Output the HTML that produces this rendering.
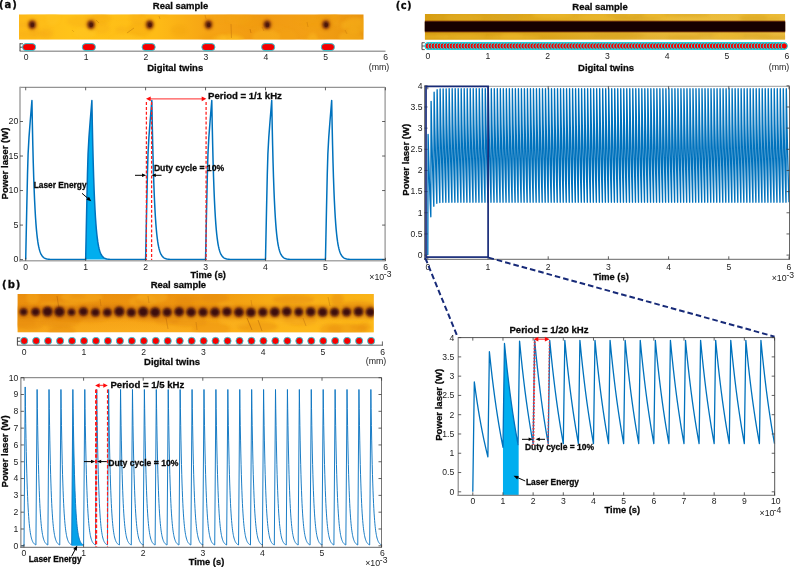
<!DOCTYPE html>
<html><head><meta charset="utf-8"><title>Figure</title>
<style>html,body{margin:0;padding:0;background:#fff}svg{display:block;will-change:transform}</style>
</head><body>
<svg width="794" height="567" viewBox="0 0 794 567" font-family='"Liberation Sans", Arial, sans-serif'>
<defs>
<filter id="b1" x="-50%" y="-50%" width="200%" height="200%"><feGaussianBlur stdDeviation="0.7"/></filter>
<filter id="b2" x="-50%" y="-50%" width="200%" height="200%"><feGaussianBlur stdDeviation="1.6"/></filter>
<filter id="b3" x="-50%" y="-50%" width="200%" height="200%"><feGaussianBlur stdDeviation="4"/></filter>
<filter id="b1s" x="-50%" y="-50%" width="200%" height="200%"><feGaussianBlur stdDeviation="1"/></filter>
<filter id="b05" x="-20%" y="-50%" width="140%" height="200%"><feGaussianBlur stdDeviation="0.5"/></filter>
<linearGradient id="ga" x1="0" y1="0" x2="1" y2="0">
<stop offset="0" stop-color="#fdb818"/><stop offset="0.15" stop-color="#ffc318"/><stop offset="0.4" stop-color="#febb16"/><stop offset="0.55" stop-color="#f6a414"/><stop offset="0.7" stop-color="#f19a12"/><stop offset="0.85" stop-color="#f3a014"/><stop offset="1" stop-color="#e9940f"/></linearGradient>
<linearGradient id="gb" x1="0" y1="0" x2="0" y2="1">
<stop offset="0" stop-color="#ea8f0e"/><stop offset="0.35" stop-color="#ee9510"/><stop offset="0.6" stop-color="#f5a216"/><stop offset="1" stop-color="#fbae1e"/></linearGradient>
<linearGradient id="gch" x1="0" y1="0" x2="1" y2="0">
<stop offset="0" stop-color="#d3980c" stop-opacity="0.8"/><stop offset="0.35" stop-color="#d79e12" stop-opacity="0.5"/><stop offset="0.7" stop-color="#f0c858" stop-opacity="0.35"/><stop offset="1" stop-color="#f0c858" stop-opacity="0.45"/></linearGradient>
<linearGradient id="gbh" x1="0" y1="0" x2="1" y2="0">
<stop offset="0" stop-color="#e8880a" stop-opacity="0.25"/><stop offset="0.4" stop-color="#f5a012" stop-opacity="0.05"/><stop offset="0.7" stop-color="#ffbc18" stop-opacity="0.6"/><stop offset="1" stop-color="#ffc01a" stop-opacity="0.75"/></linearGradient>
<linearGradient id="gc" x1="0" y1="0" x2="0" y2="1">
<stop offset="0" stop-color="#e6b226"/><stop offset="0.2" stop-color="#e9b62a"/><stop offset="0.8" stop-color="#e2ae26"/><stop offset="1" stop-color="#dcaa28"/></linearGradient>
<clipPath id="ca"><rect x="19" y="14.3" width="345" height="25.4"/></clipPath>
<clipPath id="cb"><rect x="17.4" y="294" width="356.4" height="38.5"/></clipPath>
<clipPath id="cc"><rect x="424.8" y="14" width="360.4" height="25.7"/></clipPath>
</defs>
<rect width="794" height="567" fill="#fff"/>
<text x="-1" y="8" font-size="10" font-weight="bold" text-anchor="start" fill="#0a0a0a" font-family="DejaVu Sans, sans-serif" letter-spacing="1" stroke="#0a0a0a" stroke-width="0.28">(a)</text>
<text x="180.5" y="8.6" font-size="9.5" font-weight="bold" text-anchor="middle" fill="#0a0a0a" stroke="#0a0a0a" stroke-width="0.28">Real sample</text>
<text x="175.2" y="71" font-size="9.5" font-weight="bold" text-anchor="middle" fill="#0a0a0a" stroke="#0a0a0a" stroke-width="0.28">Digital twins</text>
<g clip-path="url(#ca)">
<rect x="19" y="14.3" width="344.5" height="25.4" fill="url(#ga)"/>
<ellipse cx="100.86" cy="28.15" rx="9.18" ry="5.62" fill="#f5a815" opacity="0.3" filter="url(#b2)"/>
<ellipse cx="41.54" cy="14.34" rx="15.72" ry="3.56" fill="#ffc524" opacity="0.3" filter="url(#b2)"/>
<ellipse cx="84.96" cy="32.65" rx="11.57" ry="5.3" fill="#ffc82a" opacity="0.3" filter="url(#b2)"/>
<ellipse cx="238.84" cy="17.92" rx="12.89" ry="7.21" fill="#f5a815" opacity="0.3" filter="url(#b2)"/>
<ellipse cx="153.14" cy="14.39" rx="14.88" ry="2.96" fill="#f5a815" opacity="0.3" filter="url(#b2)"/>
<ellipse cx="33.72" cy="34.28" rx="15.53" ry="3.62" fill="#f5a815" opacity="0.3" filter="url(#b2)"/>
<ellipse cx="266.28" cy="36.85" rx="14" ry="7.53" fill="#ffc82a" opacity="0.3" filter="url(#b2)"/>
<ellipse cx="269.48" cy="29" rx="17.5" ry="2.8" fill="#f3a412" opacity="0.3" filter="url(#b2)"/>
<ellipse cx="52.52" cy="17.54" rx="7.04" ry="7.79" fill="#ffc82a" opacity="0.3" filter="url(#b2)"/>
<ellipse cx="286.97" cy="36.24" rx="9.9" ry="7" fill="#f5a815" opacity="0.3" filter="url(#b2)"/>
<ellipse cx="139.71" cy="29.21" rx="12.18" ry="7.43" fill="#f0a010" opacity="0.3" filter="url(#b2)"/>
<ellipse cx="313.6" cy="39.77" rx="13.4" ry="2.98" fill="#f3a412" opacity="0.3" filter="url(#b2)"/>
<ellipse cx="350.83" cy="37.52" rx="11.97" ry="6.28" fill="#ffc524" opacity="0.3" filter="url(#b2)"/>
<ellipse cx="236.74" cy="39.69" rx="7.74" ry="2.75" fill="#ffc82a" opacity="0.3" filter="url(#b2)"/>
<ellipse cx="312.76" cy="39.73" rx="5.24" ry="6.8" fill="#ffc82a" opacity="0.3" filter="url(#b2)"/>
<ellipse cx="327.6" cy="14.52" rx="9.98" ry="4.49" fill="#f0a010" opacity="0.3" filter="url(#b2)"/>
<ellipse cx="34.2" cy="29.98" rx="4.63" ry="6.31" fill="#f3a412" opacity="0.3" filter="url(#b2)"/>
<ellipse cx="208.49" cy="37.97" rx="7.91" ry="3.42" fill="#f0a010" opacity="0.3" filter="url(#b2)"/>
<ellipse cx="125.53" cy="16" rx="12.4" ry="2.19" fill="#ffc524" opacity="0.3" filter="url(#b2)"/>
<ellipse cx="353.17" cy="21.58" rx="7.69" ry="6.14" fill="#f3a412" opacity="0.3" filter="url(#b2)"/>
<ellipse cx="126.96" cy="38.93" rx="16.55" ry="4.27" fill="#ffc82a" opacity="0.3" filter="url(#b2)"/>
<ellipse cx="318.24" cy="24.04" rx="16.14" ry="6.09" fill="#f0a010" opacity="0.3" filter="url(#b2)"/>
<ellipse cx="232.32" cy="38.46" rx="11.1" ry="4.59" fill="#ffc524" opacity="0.3" filter="url(#b2)"/>
<ellipse cx="341.13" cy="25.37" rx="7.62" ry="3.82" fill="#f3a412" opacity="0.3" filter="url(#b2)"/>
<ellipse cx="22.94" cy="24.8" rx="12.12" ry="2.12" fill="#f5a815" opacity="0.3" filter="url(#b2)"/>
<ellipse cx="221.69" cy="17.46" rx="12.87" ry="3.99" fill="#f3a412" opacity="0.3" filter="url(#b2)"/>
<ellipse cx="252.67" cy="23.17" rx="13.9" ry="6.43" fill="#f0a010" opacity="0.3" filter="url(#b2)"/>
<ellipse cx="221.75" cy="38.83" rx="4.3" ry="4.21" fill="#ffc82a" opacity="0.3" filter="url(#b2)"/>
<ellipse cx="121.73" cy="29.64" rx="6.48" ry="3.11" fill="#f3a412" opacity="0.3" filter="url(#b2)"/>
<ellipse cx="309.28" cy="20.87" rx="15.02" ry="2.63" fill="#f0a010" opacity="0.3" filter="url(#b2)"/>
<ellipse cx="353.15" cy="31.78" rx="5.84" ry="5" fill="#f3a412" opacity="0.3" filter="url(#b2)"/>
<ellipse cx="101.11" cy="18.87" rx="10.09" ry="6.19" fill="#f0a010" opacity="0.3" filter="url(#b2)"/>
<ellipse cx="225.65" cy="38.68" rx="13.45" ry="3.35" fill="#ffc524" opacity="0.3" filter="url(#b2)"/>
<ellipse cx="46.5" cy="33.29" rx="7.05" ry="5.41" fill="#f3a412" opacity="0.3" filter="url(#b2)"/>
<ellipse cx="96.41" cy="17.14" rx="11.41" ry="3.14" fill="#f5a815" opacity="0.3" filter="url(#b2)"/>
<ellipse cx="82.15" cy="21.24" rx="15.3" ry="5.85" fill="#f5a815" opacity="0.3" filter="url(#b2)"/>
<ellipse cx="137.78" cy="17.37" rx="8.09" ry="6.76" fill="#f3a412" opacity="0.3" filter="url(#b2)"/>
<ellipse cx="178.86" cy="30.49" rx="8.07" ry="5.41" fill="#f0a010" opacity="0.3" filter="url(#b2)"/>
<ellipse cx="335.69" cy="18.06" rx="4.07" ry="7.66" fill="#f5a815" opacity="0.3" filter="url(#b2)"/>
<ellipse cx="358.5" cy="25.29" rx="17.3" ry="7.56" fill="#ffc524" opacity="0.3" filter="url(#b2)"/>
<line x1="96" y1="20" x2="99" y2="23" stroke="#8a3c08" stroke-width="0.7" opacity="0.35" filter="url(#b05)"/>
<line x1="127" y1="33" x2="134" y2="28" stroke="#8a3c08" stroke-width="0.7" opacity="0.4" filter="url(#b05)"/>
<line x1="231" y1="24" x2="231.5" y2="38" stroke="#8a3c08" stroke-width="0.7" opacity="0.35" filter="url(#b05)"/>
<line x1="250" y1="29" x2="251" y2="33" stroke="#8a3c08" stroke-width="0.7" opacity="0.4" filter="url(#b05)"/>
<line x1="262" y1="27" x2="264" y2="31" stroke="#8a3c08" stroke-width="0.7" opacity="0.3" filter="url(#b05)"/>
<line x1="159" y1="16" x2="160" y2="19" stroke="#8a3c08" stroke-width="0.7" opacity="0.3" filter="url(#b05)"/>
<line x1="72" y1="30" x2="74" y2="32" stroke="#8a3c08" stroke-width="0.7" opacity="0.25" filter="url(#b05)"/>
<line x1="307" y1="22" x2="308" y2="27" stroke="#8a3c08" stroke-width="0.7" opacity="0.25" filter="url(#b05)"/>
<line x1="205" y1="15" x2="206" y2="19" stroke="#8a3c08" stroke-width="0.7" opacity="0.3" filter="url(#b05)"/>
<line x1="345" y1="30" x2="347" y2="34" stroke="#8a3c08" stroke-width="0.7" opacity="0.25" filter="url(#b05)"/>
<ellipse cx="32.2" cy="24.6" rx="4.7" ry="5.3" fill="#b4560e" opacity="0.7" filter="url(#b2)"/>
<ellipse cx="32.2" cy="24.6" rx="3.1" ry="3.7" fill="#5e200c" filter="url(#b1s)"/>
<ellipse cx="32.5" cy="25" rx="1.7" ry="2.0" fill="#4a1608" opacity="0.8" filter="url(#b1)"/>
<ellipse cx="90.95" cy="24.6" rx="4.7" ry="5.3" fill="#b4560e" opacity="0.7" filter="url(#b2)"/>
<ellipse cx="90.95" cy="24.6" rx="3.1" ry="3.7" fill="#5e200c" filter="url(#b1s)"/>
<ellipse cx="91.25" cy="25" rx="1.7" ry="2.0" fill="#4a1608" opacity="0.8" filter="url(#b1)"/>
<ellipse cx="149.7" cy="24.6" rx="4.7" ry="5.3" fill="#b4560e" opacity="0.7" filter="url(#b2)"/>
<ellipse cx="149.7" cy="24.6" rx="3.1" ry="3.7" fill="#5e200c" filter="url(#b1s)"/>
<ellipse cx="150" cy="25" rx="1.7" ry="2.0" fill="#4a1608" opacity="0.8" filter="url(#b1)"/>
<ellipse cx="208.45" cy="24.6" rx="4.7" ry="5.3" fill="#b4560e" opacity="0.7" filter="url(#b2)"/>
<ellipse cx="208.45" cy="24.6" rx="3.1" ry="3.7" fill="#5e200c" filter="url(#b1s)"/>
<ellipse cx="208.75" cy="25" rx="1.7" ry="2.0" fill="#4a1608" opacity="0.8" filter="url(#b1)"/>
<ellipse cx="267.2" cy="24.6" rx="4.7" ry="5.3" fill="#b4560e" opacity="0.7" filter="url(#b2)"/>
<ellipse cx="267.2" cy="24.6" rx="3.1" ry="3.7" fill="#5e200c" filter="url(#b1s)"/>
<ellipse cx="267.5" cy="25" rx="1.7" ry="2.0" fill="#4a1608" opacity="0.8" filter="url(#b1)"/>
<ellipse cx="325.95" cy="24.6" rx="4.7" ry="5.3" fill="#b4560e" opacity="0.7" filter="url(#b2)"/>
<ellipse cx="325.95" cy="24.6" rx="3.1" ry="3.7" fill="#5e200c" filter="url(#b1s)"/>
<ellipse cx="326.25" cy="25" rx="1.7" ry="2.0" fill="#4a1608" opacity="0.8" filter="url(#b1)"/>
</g>
<line x1="19.6" y1="51.3" x2="385.5" y2="51.3" stroke="#a0a0a0" stroke-width="1.5"/>
<line x1="20" y1="43.2" x2="20" y2="51" stroke="#333" stroke-width="0.9"/>
<line x1="20" y1="43.8" x2="23" y2="43.8" stroke="#333" stroke-width="0.85"/>
<line x1="20" y1="47.2" x2="23" y2="47.2" stroke="#333" stroke-width="0.85"/>
<rect x="22.5" y="43.6" width="13.2" height="7" rx="3.5" fill="#f40000" stroke="#1fd3e0" stroke-width="0.9"/>
<rect x="82.26" y="43.6" width="13.2" height="7" rx="3.5" fill="#f40000" stroke="#1fd3e0" stroke-width="0.9"/>
<rect x="142.02" y="43.6" width="13.2" height="7" rx="3.5" fill="#f40000" stroke="#1fd3e0" stroke-width="0.9"/>
<rect x="201.78" y="43.6" width="13.2" height="7" rx="3.5" fill="#f40000" stroke="#1fd3e0" stroke-width="0.9"/>
<rect x="261.54" y="43.6" width="13.2" height="7" rx="3.5" fill="#f40000" stroke="#1fd3e0" stroke-width="0.9"/>
<rect x="321.3" y="43.6" width="13.2" height="7" rx="3.5" fill="#f40000" stroke="#1fd3e0" stroke-width="0.9"/>
<text x="26.2" y="60.3" font-size="8.6" font-weight="normal" text-anchor="middle" fill="#1c1c1c">0</text>
<text x="86.1" y="60.3" font-size="8.6" font-weight="normal" text-anchor="middle" fill="#1c1c1c">1</text>
<text x="146" y="60.3" font-size="8.6" font-weight="normal" text-anchor="middle" fill="#1c1c1c">2</text>
<text x="205.9" y="60.3" font-size="8.6" font-weight="normal" text-anchor="middle" fill="#1c1c1c">3</text>
<text x="265.8" y="60.3" font-size="8.6" font-weight="normal" text-anchor="middle" fill="#1c1c1c">4</text>
<text x="325.7" y="60.3" font-size="8.6" font-weight="normal" text-anchor="middle" fill="#1c1c1c">5</text>
<text x="385.6" y="60.3" font-size="8.6" font-weight="normal" text-anchor="middle" fill="#1c1c1c">6</text>
<text x="379" y="70.3" font-size="8.8" font-weight="normal" text-anchor="middle" fill="#1c1c1c">(mm)</text>
<path d="M85.65 259.6 L85.65 259.6 L86.7 208.5 L87.45 174.67 L88.05 153.95 L88.95 137.38 L90.15 121.5 L91.88 100.58 L92.33 124.89 L92.78 145.49 L93.23 162.93 L93.68 177.71 L94.12 190.23 L94.57 200.84 L95.02 209.82 L95.47 217.43 L95.91 223.88 L96.36 229.34 L96.81 233.97 L97.26 237.89 L97.7 241.21 L98.15 244.02 L98.6 246.4 L99.05 248.42 L99.49 250.13 L99.94 251.58 L100.39 252.8 L100.84 253.84 L101.28 254.72 L101.73 255.47 L102.18 256.1 L102.63 256.64 L103.08 257.09 L103.52 257.47 L103.97 257.8 L104.42 258.07 L104.87 258.31 L105.31 258.5 L105.76 258.67 L106.21 258.81 L106.66 258.93 L107.1 259.04 L107.55 259.12 L108 259.2 L108.45 259.26 L108.89 259.31 L109.34 259.35 L109.79 259.39 L110.24 259.42 L110.69 259.45 L111.13 259.47 L111.58 259.49 L112.03 259.51 L112.48 259.52 L112.92 259.53 L113.37 259.54 L113.82 259.55 L114.27 259.56 L114.71 259.57 L115.16 259.57 L115.61 259.58 L116.06 259.58 L116.5 259.58 L116.95 259.59 L117.4 259.59 L117.85 259.59 L118.29 259.59 L118.74 259.59 L119.19 259.59 L119.64 259.59 L120.09 259.6 L120.53 259.6 L120.98 259.6 L121.43 259.6 L121.88 259.6 L122.32 259.6 L122.77 259.6 L123.22 259.6 L123.67 259.6 L124.11 259.6 L124.56 259.6 L125.01 259.6 L125.46 259.6 L125.9 259.6 L126.35 259.6 L126.8 259.6 L127.25 259.6 L127.69 259.6 L128.14 259.6 L128.59 259.6 L129.04 259.6 L129.04 259.6 Z" stroke="none" stroke-width="1" fill="#00AEEF" stroke-linejoin="round"/>
<path d="M25.7 259.6 L25.7 259.6 L26.75 208.5 L27.5 174.67 L28.1 153.95 L29 137.38 L30.2 121.5 L31.93 100.58 L32.38 124.89 L32.83 145.49 L33.28 162.93 L33.73 177.71 L34.17 190.23 L34.62 200.84 L35.07 209.82 L35.52 217.43 L35.96 223.88 L36.41 229.34 L36.86 233.97 L37.31 237.89 L37.75 241.21 L38.2 244.02 L38.65 246.4 L39.1 248.42 L39.54 250.13 L39.99 251.58 L40.44 252.8 L40.89 253.84 L41.33 254.72 L41.78 255.47 L42.23 256.1 L42.68 256.64 L43.13 257.09 L43.57 257.47 L44.02 257.8 L44.47 258.07 L44.92 258.31 L45.36 258.5 L45.81 258.67 L46.26 258.81 L46.71 258.93 L47.15 259.04 L47.6 259.12 L48.05 259.2 L48.5 259.26 L48.94 259.31 L49.39 259.35 L49.84 259.39 L50.29 259.42 L50.74 259.45 L51.18 259.47 L51.63 259.49 L52.08 259.51 L52.53 259.52 L52.97 259.53 L53.42 259.54 L53.87 259.55 L54.32 259.56 L54.76 259.57 L55.21 259.57 L55.66 259.58 L56.11 259.58 L56.55 259.58 L57 259.59 L57.45 259.59 L57.9 259.59 L58.34 259.59 L58.79 259.59 L59.24 259.59 L59.69 259.59 L60.14 259.6 L60.58 259.6 L61.03 259.6 L61.48 259.6 L61.93 259.6 L62.37 259.6 L62.82 259.6 L63.27 259.6 L63.72 259.6 L64.16 259.6 L64.61 259.6 L65.06 259.6 L65.51 259.6 L65.95 259.6 L66.4 259.6 L66.85 259.6 L67.3 259.6 L67.74 259.6 L68.19 259.6 L68.64 259.6 L69.09 259.6 L69.54 259.6 L69.98 259.6 L70.43 259.6 L70.88 259.6 L71.33 259.6 L71.77 259.6 L72.22 259.6 L72.67 259.6 L73.12 259.6 L73.56 259.6 L74.01 259.6 L74.46 259.6 L74.91 259.6 L75.35 259.6 L75.8 259.6 L76.25 259.6 L76.7 259.6 L77.15 259.6 L77.59 259.6 L78.04 259.6 L78.49 259.6 L78.94 259.6 L79.38 259.6 L79.83 259.6 L80.28 259.6 L80.73 259.6 L81.17 259.6 L81.62 259.6 L82.07 259.6 L82.52 259.6 L82.96 259.6 L83.41 259.6 L83.86 259.6 L84.31 259.6 L84.75 259.6 L85.2 259.6 L85.65 259.6 L85.65 259.6 L86.7 208.5 L87.45 174.67 L88.05 153.95 L88.95 137.38 L90.15 121.5 L91.88 100.58 L92.33 124.89 L92.78 145.49 L93.23 162.93 L93.68 177.71 L94.12 190.23 L94.57 200.84 L95.02 209.82 L95.47 217.43 L95.91 223.88 L96.36 229.34 L96.81 233.97 L97.26 237.89 L97.7 241.21 L98.15 244.02 L98.6 246.4 L99.05 248.42 L99.49 250.13 L99.94 251.58 L100.39 252.8 L100.84 253.84 L101.28 254.72 L101.73 255.47 L102.18 256.1 L102.63 256.64 L103.08 257.09 L103.52 257.47 L103.97 257.8 L104.42 258.07 L104.87 258.31 L105.31 258.5 L105.76 258.67 L106.21 258.81 L106.66 258.93 L107.1 259.04 L107.55 259.12 L108 259.2 L108.45 259.26 L108.89 259.31 L109.34 259.35 L109.79 259.39 L110.24 259.42 L110.69 259.45 L111.13 259.47 L111.58 259.49 L112.03 259.51 L112.48 259.52 L112.92 259.53 L113.37 259.54 L113.82 259.55 L114.27 259.56 L114.71 259.57 L115.16 259.57 L115.61 259.58 L116.06 259.58 L116.5 259.58 L116.95 259.59 L117.4 259.59 L117.85 259.59 L118.29 259.59 L118.74 259.59 L119.19 259.59 L119.64 259.59 L120.09 259.6 L120.53 259.6 L120.98 259.6 L121.43 259.6 L121.88 259.6 L122.32 259.6 L122.77 259.6 L123.22 259.6 L123.67 259.6 L124.11 259.6 L124.56 259.6 L125.01 259.6 L125.46 259.6 L125.9 259.6 L126.35 259.6 L126.8 259.6 L127.25 259.6 L127.69 259.6 L128.14 259.6 L128.59 259.6 L129.04 259.6 L129.49 259.6 L129.93 259.6 L130.38 259.6 L130.83 259.6 L131.28 259.6 L131.72 259.6 L132.17 259.6 L132.62 259.6 L133.07 259.6 L133.51 259.6 L133.96 259.6 L134.41 259.6 L134.86 259.6 L135.3 259.6 L135.75 259.6 L136.2 259.6 L136.65 259.6 L137.1 259.6 L137.54 259.6 L137.99 259.6 L138.44 259.6 L138.89 259.6 L139.33 259.6 L139.78 259.6 L140.23 259.6 L140.68 259.6 L141.12 259.6 L141.57 259.6 L142.02 259.6 L142.47 259.6 L142.91 259.6 L143.36 259.6 L143.81 259.6 L144.26 259.6 L144.7 259.6 L145.15 259.6 L145.6 259.6 L145.6 259.6 L146.65 208.5 L147.4 174.67 L148 153.95 L148.9 137.38 L150.1 121.5 L151.83 100.58 L152.28 124.89 L152.73 145.49 L153.18 162.93 L153.63 177.71 L154.07 190.23 L154.52 200.84 L154.97 209.82 L155.42 217.43 L155.86 223.88 L156.31 229.34 L156.76 233.97 L157.21 237.89 L157.65 241.21 L158.1 244.02 L158.55 246.4 L159 248.42 L159.44 250.13 L159.89 251.58 L160.34 252.8 L160.79 253.84 L161.23 254.72 L161.68 255.47 L162.13 256.1 L162.58 256.64 L163.03 257.09 L163.47 257.47 L163.92 257.8 L164.37 258.07 L164.82 258.31 L165.26 258.5 L165.71 258.67 L166.16 258.81 L166.61 258.93 L167.05 259.04 L167.5 259.12 L167.95 259.2 L168.4 259.26 L168.84 259.31 L169.29 259.35 L169.74 259.39 L170.19 259.42 L170.64 259.45 L171.08 259.47 L171.53 259.49 L171.98 259.51 L172.43 259.52 L172.87 259.53 L173.32 259.54 L173.77 259.55 L174.22 259.56 L174.66 259.57 L175.11 259.57 L175.56 259.58 L176.01 259.58 L176.45 259.58 L176.9 259.59 L177.35 259.59 L177.8 259.59 L178.24 259.59 L178.69 259.59 L179.14 259.59 L179.59 259.59 L180.04 259.6 L180.48 259.6 L180.93 259.6 L181.38 259.6 L181.83 259.6 L182.27 259.6 L182.72 259.6 L183.17 259.6 L183.62 259.6 L184.06 259.6 L184.51 259.6 L184.96 259.6 L185.41 259.6 L185.85 259.6 L186.3 259.6 L186.75 259.6 L187.2 259.6 L187.64 259.6 L188.09 259.6 L188.54 259.6 L188.99 259.6 L189.44 259.6 L189.88 259.6 L190.33 259.6 L190.78 259.6 L191.23 259.6 L191.67 259.6 L192.12 259.6 L192.57 259.6 L193.02 259.6 L193.46 259.6 L193.91 259.6 L194.36 259.6 L194.81 259.6 L195.25 259.6 L195.7 259.6 L196.15 259.6 L196.6 259.6 L197.05 259.6 L197.49 259.6 L197.94 259.6 L198.39 259.6 L198.84 259.6 L199.28 259.6 L199.73 259.6 L200.18 259.6 L200.63 259.6 L201.07 259.6 L201.52 259.6 L201.97 259.6 L202.42 259.6 L202.86 259.6 L203.31 259.6 L203.76 259.6 L204.21 259.6 L204.65 259.6 L205.1 259.6 L205.55 259.6 L205.55 259.6 L206.6 208.5 L207.35 174.67 L207.95 153.95 L208.85 137.38 L210.05 121.5 L211.78 100.58 L212.23 124.89 L212.68 145.49 L213.13 162.93 L213.58 177.71 L214.02 190.23 L214.47 200.84 L214.92 209.82 L215.37 217.43 L215.81 223.88 L216.26 229.34 L216.71 233.97 L217.16 237.89 L217.6 241.21 L218.05 244.02 L218.5 246.4 L218.95 248.42 L219.39 250.13 L219.84 251.58 L220.29 252.8 L220.74 253.84 L221.18 254.72 L221.63 255.47 L222.08 256.1 L222.53 256.64 L222.98 257.09 L223.42 257.47 L223.87 257.8 L224.32 258.07 L224.77 258.31 L225.21 258.5 L225.66 258.67 L226.11 258.81 L226.56 258.93 L227 259.04 L227.45 259.12 L227.9 259.2 L228.35 259.26 L228.79 259.31 L229.24 259.35 L229.69 259.39 L230.14 259.42 L230.59 259.45 L231.03 259.47 L231.48 259.49 L231.93 259.51 L232.38 259.52 L232.82 259.53 L233.27 259.54 L233.72 259.55 L234.17 259.56 L234.61 259.57 L235.06 259.57 L235.51 259.58 L235.96 259.58 L236.4 259.58 L236.85 259.59 L237.3 259.59 L237.75 259.59 L238.19 259.59 L238.64 259.59 L239.09 259.59 L239.54 259.59 L239.99 259.6 L240.43 259.6 L240.88 259.6 L241.33 259.6 L241.78 259.6 L242.22 259.6 L242.67 259.6 L243.12 259.6 L243.57 259.6 L244.01 259.6 L244.46 259.6 L244.91 259.6 L245.36 259.6 L245.8 259.6 L246.25 259.6 L246.7 259.6 L247.15 259.6 L247.59 259.6 L248.04 259.6 L248.49 259.6 L248.94 259.6 L249.39 259.6 L249.83 259.6 L250.28 259.6 L250.73 259.6 L251.18 259.6 L251.62 259.6 L252.07 259.6 L252.52 259.6 L252.97 259.6 L253.41 259.6 L253.86 259.6 L254.31 259.6 L254.76 259.6 L255.2 259.6 L255.65 259.6 L256.1 259.6 L256.55 259.6 L257 259.6 L257.44 259.6 L257.89 259.6 L258.34 259.6 L258.79 259.6 L259.23 259.6 L259.68 259.6 L260.13 259.6 L260.58 259.6 L261.02 259.6 L261.47 259.6 L261.92 259.6 L262.37 259.6 L262.81 259.6 L263.26 259.6 L263.71 259.6 L264.16 259.6 L264.6 259.6 L265.05 259.6 L265.5 259.6 L265.5 259.6 L266.55 208.5 L267.3 174.67 L267.9 153.95 L268.8 137.38 L270 121.5 L271.73 100.58 L272.18 124.89 L272.63 145.49 L273.08 162.93 L273.53 177.71 L273.97 190.23 L274.42 200.84 L274.87 209.82 L275.32 217.43 L275.76 223.88 L276.21 229.34 L276.66 233.97 L277.11 237.89 L277.55 241.21 L278 244.02 L278.45 246.4 L278.9 248.42 L279.34 250.13 L279.79 251.58 L280.24 252.8 L280.69 253.84 L281.13 254.72 L281.58 255.47 L282.03 256.1 L282.48 256.64 L282.93 257.09 L283.37 257.47 L283.82 257.8 L284.27 258.07 L284.72 258.31 L285.16 258.5 L285.61 258.67 L286.06 258.81 L286.51 258.93 L286.95 259.04 L287.4 259.12 L287.85 259.2 L288.3 259.26 L288.74 259.31 L289.19 259.35 L289.64 259.39 L290.09 259.42 L290.54 259.45 L290.98 259.47 L291.43 259.49 L291.88 259.51 L292.33 259.52 L292.77 259.53 L293.22 259.54 L293.67 259.55 L294.12 259.56 L294.56 259.57 L295.01 259.57 L295.46 259.58 L295.91 259.58 L296.35 259.58 L296.8 259.59 L297.25 259.59 L297.7 259.59 L298.14 259.59 L298.59 259.59 L299.04 259.59 L299.49 259.59 L299.94 259.6 L300.38 259.6 L300.83 259.6 L301.28 259.6 L301.73 259.6 L302.17 259.6 L302.62 259.6 L303.07 259.6 L303.52 259.6 L303.96 259.6 L304.41 259.6 L304.86 259.6 L305.31 259.6 L305.75 259.6 L306.2 259.6 L306.65 259.6 L307.1 259.6 L307.54 259.6 L307.99 259.6 L308.44 259.6 L308.89 259.6 L309.34 259.6 L309.78 259.6 L310.23 259.6 L310.68 259.6 L311.13 259.6 L311.57 259.6 L312.02 259.6 L312.47 259.6 L312.92 259.6 L313.36 259.6 L313.81 259.6 L314.26 259.6 L314.71 259.6 L315.15 259.6 L315.6 259.6 L316.05 259.6 L316.5 259.6 L316.95 259.6 L317.39 259.6 L317.84 259.6 L318.29 259.6 L318.74 259.6 L319.18 259.6 L319.63 259.6 L320.08 259.6 L320.53 259.6 L320.97 259.6 L321.42 259.6 L321.87 259.6 L322.32 259.6 L322.76 259.6 L323.21 259.6 L323.66 259.6 L324.11 259.6 L324.55 259.6 L325 259.6 L325.45 259.6 L325.45 259.6 L326.5 208.5 L327.25 174.67 L327.85 153.95 L328.75 137.38 L329.95 121.5 L331.68 100.58 L332.13 124.89 L332.58 145.49 L333.03 162.93 L333.48 177.71 L333.92 190.23 L334.37 200.84 L334.82 209.82 L335.27 217.43 L335.71 223.88 L336.16 229.34 L336.61 233.97 L337.06 237.89 L337.5 241.21 L337.95 244.02 L338.4 246.4 L338.85 248.42 L339.29 250.13 L339.74 251.58 L340.19 252.8 L340.64 253.84 L341.08 254.72 L341.53 255.47 L341.98 256.1 L342.43 256.64 L342.88 257.09 L343.32 257.47 L343.77 257.8 L344.22 258.07 L344.67 258.31 L345.11 258.5 L345.56 258.67 L346.01 258.81 L346.46 258.93 L346.9 259.04 L347.35 259.12 L347.8 259.2 L348.25 259.26 L348.69 259.31 L349.14 259.35 L349.59 259.39 L350.04 259.42 L350.49 259.45 L350.93 259.47 L351.38 259.49 L351.83 259.51 L352.28 259.52 L352.72 259.53 L353.17 259.54 L353.62 259.55 L354.07 259.56 L354.51 259.57 L354.96 259.57 L355.41 259.58 L355.86 259.58 L356.3 259.58 L356.75 259.59 L357.2 259.59 L357.65 259.59 L358.09 259.59 L358.54 259.59 L358.99 259.59 L359.44 259.59 L359.89 259.6 L360.33 259.6 L360.78 259.6 L361.23 259.6 L361.68 259.6 L362.12 259.6 L362.57 259.6 L363.02 259.6 L363.47 259.6 L363.91 259.6 L364.36 259.6 L364.81 259.6 L365.26 259.6 L365.7 259.6 L366.15 259.6 L366.6 259.6 L367.05 259.6 L367.49 259.6 L367.94 259.6 L368.39 259.6 L368.84 259.6 L369.29 259.6 L369.73 259.6 L370.18 259.6 L370.63 259.6 L371.08 259.6 L371.52 259.6 L371.97 259.6 L372.42 259.6 L372.87 259.6 L373.31 259.6 L373.76 259.6 L374.21 259.6 L374.66 259.6 L375.1 259.6 L375.55 259.6 L376 259.6 L376.45 259.6 L376.9 259.6 L377.34 259.6 L377.79 259.6 L378.24 259.6 L378.69 259.6 L379.13 259.6 L379.58 259.6 L380.03 259.6 L380.48 259.6 L380.92 259.6 L381.37 259.6 L381.82 259.6 L382.27 259.6 L382.71 259.6 L383.16 259.6 L383.61 259.6 L384.06 259.6 L384.5 259.6 L384.95 259.6 L385.4 259.6" stroke="#0072BD" stroke-width="1.5" fill="none" stroke-linejoin="round"/>
<line x1="20" y1="87.3" x2="385.1" y2="87.3" stroke="#7a7a7a" stroke-width="1.0"/>
<line x1="385.1" y1="87.3" x2="385.1" y2="260.8" stroke="#999" stroke-width="1.3"/>
<line x1="20" y1="86.8" x2="20" y2="261.6" stroke="#a3a3a3" stroke-width="1.5"/>
<line x1="19.25" y1="260.8" x2="385.75" y2="260.8" stroke="#a8a8a8" stroke-width="1.6"/>
<line x1="25.7" y1="260.8" x2="25.7" y2="257.8" stroke="#3a3a3a" stroke-width="0.8"/>
<line x1="25.7" y1="87.3" x2="25.7" y2="90.3" stroke="#3a3a3a" stroke-width="0.8"/>
<text x="25.7" y="269.5" font-size="8.6" font-weight="normal" text-anchor="middle" fill="#1c1c1c">0</text>
<line x1="85.65" y1="260.8" x2="85.65" y2="257.8" stroke="#3a3a3a" stroke-width="0.8"/>
<line x1="85.65" y1="87.3" x2="85.65" y2="90.3" stroke="#3a3a3a" stroke-width="0.8"/>
<text x="85.65" y="269.5" font-size="8.6" font-weight="normal" text-anchor="middle" fill="#1c1c1c">1</text>
<line x1="145.6" y1="260.8" x2="145.6" y2="257.8" stroke="#3a3a3a" stroke-width="0.8"/>
<line x1="145.6" y1="87.3" x2="145.6" y2="90.3" stroke="#3a3a3a" stroke-width="0.8"/>
<text x="145.6" y="269.5" font-size="8.6" font-weight="normal" text-anchor="middle" fill="#1c1c1c">2</text>
<line x1="205.55" y1="260.8" x2="205.55" y2="257.8" stroke="#3a3a3a" stroke-width="0.8"/>
<line x1="205.55" y1="87.3" x2="205.55" y2="90.3" stroke="#3a3a3a" stroke-width="0.8"/>
<text x="205.55" y="269.5" font-size="8.6" font-weight="normal" text-anchor="middle" fill="#1c1c1c">3</text>
<line x1="265.5" y1="260.8" x2="265.5" y2="257.8" stroke="#3a3a3a" stroke-width="0.8"/>
<line x1="265.5" y1="87.3" x2="265.5" y2="90.3" stroke="#3a3a3a" stroke-width="0.8"/>
<text x="265.5" y="269.5" font-size="8.6" font-weight="normal" text-anchor="middle" fill="#1c1c1c">4</text>
<line x1="325.45" y1="260.8" x2="325.45" y2="257.8" stroke="#3a3a3a" stroke-width="0.8"/>
<line x1="325.45" y1="87.3" x2="325.45" y2="90.3" stroke="#3a3a3a" stroke-width="0.8"/>
<text x="325.45" y="269.5" font-size="8.6" font-weight="normal" text-anchor="middle" fill="#1c1c1c">5</text>
<line x1="385.4" y1="260.8" x2="385.4" y2="257.8" stroke="#3a3a3a" stroke-width="0.8"/>
<line x1="385.4" y1="87.3" x2="385.4" y2="90.3" stroke="#3a3a3a" stroke-width="0.8"/>
<text x="385.7" y="269.5" font-size="8.6" font-weight="normal" text-anchor="middle" fill="#1c1c1c">6</text>
<line x1="20" y1="259.6" x2="23" y2="259.6" stroke="#3a3a3a" stroke-width="0.8"/>
<line x1="385.1" y1="259.6" x2="382.1" y2="259.6" stroke="#3a3a3a" stroke-width="0.8"/>
<text x="18.4" y="262.1" font-size="8.8" font-weight="normal" text-anchor="end" fill="#1c1c1c">0</text>
<line x1="20" y1="225.08" x2="23" y2="225.08" stroke="#3a3a3a" stroke-width="0.8"/>
<line x1="385.1" y1="225.08" x2="382.1" y2="225.08" stroke="#3a3a3a" stroke-width="0.8"/>
<text x="18.4" y="227.58" font-size="8.8" font-weight="normal" text-anchor="end" fill="#1c1c1c">5</text>
<line x1="20" y1="190.55" x2="23" y2="190.55" stroke="#3a3a3a" stroke-width="0.8"/>
<line x1="385.1" y1="190.55" x2="382.1" y2="190.55" stroke="#3a3a3a" stroke-width="0.8"/>
<text x="18.4" y="193.05" font-size="8.8" font-weight="normal" text-anchor="end" fill="#1c1c1c">10</text>
<line x1="20" y1="156.03" x2="23" y2="156.03" stroke="#3a3a3a" stroke-width="0.8"/>
<line x1="385.1" y1="156.03" x2="382.1" y2="156.03" stroke="#3a3a3a" stroke-width="0.8"/>
<text x="18.4" y="158.53" font-size="8.8" font-weight="normal" text-anchor="end" fill="#1c1c1c">15</text>
<line x1="20" y1="121.5" x2="23" y2="121.5" stroke="#3a3a3a" stroke-width="0.8"/>
<line x1="385.1" y1="121.5" x2="382.1" y2="121.5" stroke="#3a3a3a" stroke-width="0.8"/>
<text x="18.4" y="124" font-size="8.8" font-weight="normal" text-anchor="end" fill="#1c1c1c">20</text>
<text x="208.2" y="278" font-size="9.3" font-weight="bold" text-anchor="middle" fill="#0a0a0a" stroke="#0a0a0a" stroke-width="0.28">Time (s)</text>
<text x="369.3" y="279.7" font-size="8.8" font-weight="normal" text-anchor="start" fill="#1c1c1c">×10</text>
<text x="383.8" y="276.5" font-size="8.6" font-weight="normal" text-anchor="start" fill="#1c1c1c">-3</text>
<text x="7.5" y="163.5" font-size="9.6" font-weight="bold" text-anchor="middle" fill="#0a0a0a" transform="rotate(-90 7.5 163.5)" stroke="#0a0a0a" stroke-width="0.28">Power laser (W)</text>
<line x1="146.4" y1="102" x2="146.4" y2="260" stroke="#ff1c1c" stroke-width="1.25" stroke-dasharray="3 1.9"/>
<line x1="151.6" y1="102" x2="151.6" y2="260" stroke="#ff1c1c" stroke-width="1.25" stroke-dasharray="3 1.9"/>
<line x1="206.1" y1="102" x2="206.1" y2="260" stroke="#ff1c1c" stroke-width="1.25" stroke-dasharray="3 1.9"/>
<line x1="148.82" y1="98.8" x2="203.58" y2="98.8" stroke="#ff5252" stroke-width="1.3"/>
<polygon points="206.4,98.8 201.7,101.15 201.7,96.45" fill="#ff0a0a"/>
<polygon points="146,98.8 150.7,96.45 150.7,101.15" fill="#ff0a0a"/>
<text x="208" y="99.3" font-size="9.6" font-weight="bold" text-anchor="start" fill="#0a0a0a" stroke="#0a0a0a" stroke-width="0.28">Period = 1/1 kHz</text>
<text x="153.9" y="170.8" font-size="8.65" font-weight="bold" text-anchor="start" fill="#0a0a0a" stroke="#0a0a0a" stroke-width="0.28">Duty cycle = 10%</text>
<line x1="135" y1="175.3" x2="143.68" y2="175.3" stroke="#000" stroke-width="1.0"/>
<polygon points="146.2,175.3 142,177.06 142,173.54" fill="#000"/>
<line x1="161.5" y1="175.3" x2="154.12" y2="175.3" stroke="#000" stroke-width="1.0"/>
<polygon points="151.6,175.3 155.8,173.54 155.8,177.06" fill="#000"/>
<text x="33.7" y="188.2" font-size="8.35" font-weight="bold" text-anchor="start" fill="#0a0a0a" stroke="#0a0a0a" stroke-width="0.28">Laser Energy</text>
<line x1="82" y1="193.3" x2="89.12" y2="199.42" stroke="#000" stroke-width="1.0"/>
<polygon points="91.3,201.3 86.35,199.7 88.98,196.64" fill="#000"/>
<text x="2.1" y="288.1" font-size="10" font-weight="bold" text-anchor="start" fill="#0a0a0a" font-family="DejaVu Sans, sans-serif" letter-spacing="1" stroke="#0a0a0a" stroke-width="0.28">(b)</text>
<text x="178.4" y="288.1" font-size="9.5" font-weight="bold" text-anchor="middle" fill="#0a0a0a" stroke="#0a0a0a" stroke-width="0.28">Real sample</text>
<text x="172" y="364.7" font-size="9.5" font-weight="bold" text-anchor="middle" fill="#0a0a0a" stroke="#0a0a0a" stroke-width="0.28">Digital twins</text>
<g clip-path="url(#cb)">
<rect x="17.4" y="294" width="356.4" height="38.5" fill="url(#gb)"/>
<rect x="17.4" y="294" width="356.4" height="38.5" fill="url(#gbh)"/>
<ellipse cx="28.54" cy="311.81" rx="17.05" ry="6.49" fill="#ea900e" opacity="0.4" filter="url(#b2)"/>
<ellipse cx="211.16" cy="328.7" rx="18.78" ry="7.15" fill="#ea900e" opacity="0.4" filter="url(#b2)"/>
<ellipse cx="59.84" cy="303.54" rx="5.56" ry="6.82" fill="#e2860a" opacity="0.4" filter="url(#b2)"/>
<ellipse cx="346.82" cy="328.97" rx="19.39" ry="5.46" fill="#e58a0c" opacity="0.4" filter="url(#b2)"/>
<ellipse cx="188.73" cy="298.71" rx="13.05" ry="3.43" fill="#e58a0c" opacity="0.4" filter="url(#b2)"/>
<ellipse cx="204.41" cy="310.14" rx="20.02" ry="5.67" fill="#ea900e" opacity="0.4" filter="url(#b2)"/>
<ellipse cx="61.77" cy="331.91" rx="13.66" ry="6.87" fill="#e58a0c" opacity="0.4" filter="url(#b2)"/>
<ellipse cx="142.61" cy="301.7" rx="13.55" ry="6.9" fill="#f9ae1c" opacity="0.4" filter="url(#b2)"/>
<ellipse cx="102.49" cy="304.68" rx="19.23" ry="2.77" fill="#e58a0c" opacity="0.4" filter="url(#b2)"/>
<ellipse cx="191.04" cy="316.26" rx="11.4" ry="6.54" fill="#f9ae1c" opacity="0.4" filter="url(#b2)"/>
<ellipse cx="112.89" cy="314.56" rx="11.77" ry="4.84" fill="#e58a0c" opacity="0.4" filter="url(#b2)"/>
<ellipse cx="322.96" cy="324.23" rx="5.74" ry="2.3" fill="#fbb422" opacity="0.4" filter="url(#b2)"/>
<ellipse cx="364.97" cy="327.32" rx="6.38" ry="5.01" fill="#ea900e" opacity="0.4" filter="url(#b2)"/>
<ellipse cx="73.06" cy="296.8" rx="11.17" ry="4.34" fill="#ea900e" opacity="0.4" filter="url(#b2)"/>
<ellipse cx="145.82" cy="301.45" rx="10.26" ry="2.74" fill="#e2860a" opacity="0.4" filter="url(#b2)"/>
<ellipse cx="18.25" cy="322.2" rx="17.72" ry="5.4" fill="#e58a0c" opacity="0.4" filter="url(#b2)"/>
<ellipse cx="150.26" cy="317.57" rx="17.52" ry="4.28" fill="#e58a0c" opacity="0.4" filter="url(#b2)"/>
<ellipse cx="239.38" cy="310.83" rx="10.96" ry="4.98" fill="#ea900e" opacity="0.4" filter="url(#b2)"/>
<ellipse cx="167.12" cy="321.07" rx="12.37" ry="3.47" fill="#e2860a" opacity="0.4" filter="url(#b2)"/>
<ellipse cx="113.42" cy="317.01" rx="17.85" ry="3.35" fill="#f9ae1c" opacity="0.4" filter="url(#b2)"/>
<ellipse cx="331.04" cy="330.52" rx="10.99" ry="7.39" fill="#ea900e" opacity="0.4" filter="url(#b2)"/>
<ellipse cx="60.36" cy="320.93" rx="20.02" ry="6.39" fill="#e2860a" opacity="0.4" filter="url(#b2)"/>
<ellipse cx="299.91" cy="320.03" rx="16.74" ry="5.38" fill="#e58a0c" opacity="0.4" filter="url(#b2)"/>
<ellipse cx="306.75" cy="321.95" rx="12.58" ry="3.42" fill="#fbb422" opacity="0.4" filter="url(#b2)"/>
<ellipse cx="32.82" cy="297.58" rx="6.59" ry="7.28" fill="#f9ae1c" opacity="0.4" filter="url(#b2)"/>
<ellipse cx="309.54" cy="307.32" rx="18.64" ry="2.15" fill="#e58a0c" opacity="0.4" filter="url(#b2)"/>
<ellipse cx="257.45" cy="326.61" rx="20.24" ry="5.47" fill="#e58a0c" opacity="0.4" filter="url(#b2)"/>
<ellipse cx="29.95" cy="323.93" rx="13.18" ry="6.29" fill="#e58a0c" opacity="0.4" filter="url(#b2)"/>
<ellipse cx="214.94" cy="297.9" rx="13.85" ry="5.3" fill="#e2860a" opacity="0.4" filter="url(#b2)"/>
<ellipse cx="81.41" cy="297.02" rx="20.97" ry="5.88" fill="#fbb422" opacity="0.4" filter="url(#b2)"/>
<ellipse cx="236.91" cy="323.39" rx="11.3" ry="4.2" fill="#fbb422" opacity="0.4" filter="url(#b2)"/>
<ellipse cx="352.14" cy="315.71" rx="20.46" ry="4.25" fill="#f9ae1c" opacity="0.4" filter="url(#b2)"/>
<ellipse cx="364.38" cy="310.1" rx="16.96" ry="2.96" fill="#e2860a" opacity="0.4" filter="url(#b2)"/>
<ellipse cx="286.93" cy="320.28" rx="13.27" ry="4.9" fill="#fbb422" opacity="0.4" filter="url(#b2)"/>
<ellipse cx="337.37" cy="299.82" rx="6.53" ry="6.49" fill="#e2860a" opacity="0.4" filter="url(#b2)"/>
<ellipse cx="356.4" cy="316.87" rx="18.73" ry="2.82" fill="#f9ae1c" opacity="0.4" filter="url(#b2)"/>
<ellipse cx="69.32" cy="314.11" rx="19.96" ry="7.11" fill="#e2860a" opacity="0.4" filter="url(#b2)"/>
<ellipse cx="357.37" cy="305.54" rx="16.29" ry="4.48" fill="#e2860a" opacity="0.4" filter="url(#b2)"/>
<ellipse cx="225.72" cy="304.42" rx="8.48" ry="2.14" fill="#fbb422" opacity="0.4" filter="url(#b2)"/>
<ellipse cx="304.06" cy="301.82" rx="14.12" ry="3.43" fill="#fbb422" opacity="0.4" filter="url(#b2)"/>
<ellipse cx="293.39" cy="299.6" rx="20.86" ry="4.88" fill="#e2860a" opacity="0.4" filter="url(#b2)"/>
<ellipse cx="90.46" cy="316.64" rx="19.43" ry="5.91" fill="#e58a0c" opacity="0.4" filter="url(#b2)"/>
<ellipse cx="188.82" cy="322.11" rx="18.71" ry="4.4" fill="#e58a0c" opacity="0.4" filter="url(#b2)"/>
<ellipse cx="183.86" cy="302.95" rx="8.76" ry="6.31" fill="#e58a0c" opacity="0.4" filter="url(#b2)"/>
<ellipse cx="359.26" cy="327.3" rx="8.87" ry="3.14" fill="#ea900e" opacity="0.4" filter="url(#b2)"/>
<ellipse cx="66.08" cy="318.25" rx="15.8" ry="2.22" fill="#ea900e" opacity="0.4" filter="url(#b2)"/>
<ellipse cx="77.59" cy="295.76" rx="7.93" ry="2.55" fill="#e58a0c" opacity="0.4" filter="url(#b2)"/>
<ellipse cx="59.11" cy="304.3" rx="19.62" ry="2.22" fill="#fbb422" opacity="0.4" filter="url(#b2)"/>
<ellipse cx="224.17" cy="320.34" rx="5.11" ry="4.01" fill="#fbb422" opacity="0.4" filter="url(#b2)"/>
<ellipse cx="152.54" cy="297.04" rx="15.31" ry="6.45" fill="#fbb422" opacity="0.4" filter="url(#b2)"/>
<rect x="17.4" y="305" width="356.4" height="14" fill="#c0620c" opacity="0.22" filter="url(#b2)"/>
<line x1="57" y1="296" x2="59" y2="309" stroke="#7a3208" stroke-width="0.7" opacity="0.35" filter="url(#b05)"/>
<line x1="148" y1="296" x2="149" y2="303" stroke="#7a3208" stroke-width="0.7" opacity="0.3" filter="url(#b05)"/>
<line x1="166" y1="318" x2="168" y2="329" stroke="#7a3208" stroke-width="0.7" opacity="0.3" filter="url(#b05)"/>
<line x1="247" y1="318" x2="252" y2="330" stroke="#7a3208" stroke-width="0.7" opacity="0.45" filter="url(#b05)"/>
<line x1="258" y1="320" x2="262" y2="331" stroke="#7a3208" stroke-width="0.7" opacity="0.4" filter="url(#b05)"/>
<line x1="251" y1="300" x2="252" y2="306" stroke="#7a3208" stroke-width="0.7" opacity="0.25" filter="url(#b05)"/>
<line x1="328" y1="297" x2="330" y2="306" stroke="#7a3208" stroke-width="0.7" opacity="0.3" filter="url(#b05)"/>
<line x1="303" y1="318" x2="306" y2="326" stroke="#7a3208" stroke-width="0.7" opacity="0.3" filter="url(#b05)"/>
<line x1="196" y1="322" x2="197" y2="330" stroke="#7a3208" stroke-width="0.7" opacity="0.25" filter="url(#b05)"/>
<line x1="100" y1="299" x2="101" y2="306" stroke="#7a3208" stroke-width="0.7" opacity="0.25" filter="url(#b05)"/>
<ellipse cx="23.6" cy="311.89" rx="4.55" ry="4.65" fill="#7a2c10" opacity="0.62" filter="url(#b2)"/>
<ellipse cx="23.6" cy="311.89" rx="3.45" ry="3.05" fill="#3d0c10" filter="url(#b1s)"/>
<ellipse cx="35.56" cy="312.04" rx="4.95" ry="5.05" fill="#7a2c10" opacity="0.62" filter="url(#b2)"/>
<ellipse cx="35.56" cy="312.04" rx="3.85" ry="3.45" fill="#3d0c10" filter="url(#b1s)"/>
<ellipse cx="47.52" cy="311.62" rx="5.75" ry="5.85" fill="#7a2c10" opacity="0.62" filter="url(#b2)"/>
<ellipse cx="47.52" cy="311.62" rx="4.65" ry="4.25" fill="#3d0c10" filter="url(#b1s)"/>
<ellipse cx="59.49" cy="311.77" rx="5.85" ry="5.95" fill="#7a2c10" opacity="0.62" filter="url(#b2)"/>
<ellipse cx="59.49" cy="311.77" rx="4.75" ry="4.35" fill="#3d0c10" filter="url(#b1s)"/>
<ellipse cx="71.45" cy="312.17" rx="4.45" ry="4.55" fill="#7a2c10" opacity="0.62" filter="url(#b2)"/>
<ellipse cx="71.45" cy="312.17" rx="3.35" ry="2.95" fill="#3d0c10" filter="url(#b1s)"/>
<ellipse cx="83.41" cy="311.61" rx="5.15" ry="5.25" fill="#7a2c10" opacity="0.62" filter="url(#b2)"/>
<ellipse cx="83.41" cy="311.61" rx="4.05" ry="3.65" fill="#3d0c10" filter="url(#b1s)"/>
<ellipse cx="95.37" cy="312.39" rx="4.95" ry="5.05" fill="#7a2c10" opacity="0.62" filter="url(#b2)"/>
<ellipse cx="95.37" cy="312.39" rx="3.85" ry="3.45" fill="#3d0c10" filter="url(#b1s)"/>
<ellipse cx="107.33" cy="312.41" rx="4.95" ry="5.05" fill="#7a2c10" opacity="0.62" filter="url(#b2)"/>
<ellipse cx="107.33" cy="312.41" rx="3.85" ry="3.45" fill="#3d0c10" filter="url(#b1s)"/>
<ellipse cx="119.3" cy="311.6" rx="5.75" ry="5.85" fill="#7a2c10" opacity="0.62" filter="url(#b2)"/>
<ellipse cx="119.3" cy="311.6" rx="4.65" ry="4.25" fill="#3d0c10" filter="url(#b1s)"/>
<ellipse cx="131.26" cy="312.44" rx="5.15" ry="5.25" fill="#7a2c10" opacity="0.62" filter="url(#b2)"/>
<ellipse cx="131.26" cy="312.44" rx="4.05" ry="3.65" fill="#3d0c10" filter="url(#b1s)"/>
<ellipse cx="143.22" cy="311.87" rx="5.75" ry="5.85" fill="#7a2c10" opacity="0.62" filter="url(#b2)"/>
<ellipse cx="143.22" cy="311.87" rx="4.65" ry="4.25" fill="#3d0c10" filter="url(#b1s)"/>
<ellipse cx="155.18" cy="312.27" rx="5.75" ry="5.85" fill="#7a2c10" opacity="0.62" filter="url(#b2)"/>
<ellipse cx="155.18" cy="312.27" rx="4.65" ry="4.25" fill="#3d0c10" filter="url(#b1s)"/>
<ellipse cx="167.14" cy="312.26" rx="5.15" ry="5.25" fill="#7a2c10" opacity="0.62" filter="url(#b2)"/>
<ellipse cx="167.14" cy="312.26" rx="4.05" ry="3.65" fill="#3d0c10" filter="url(#b1s)"/>
<ellipse cx="179.11" cy="311.8" rx="5.45" ry="5.55" fill="#7a2c10" opacity="0.62" filter="url(#b2)"/>
<ellipse cx="179.11" cy="311.8" rx="4.35" ry="3.95" fill="#3d0c10" filter="url(#b1s)"/>
<ellipse cx="191.07" cy="312.18" rx="5.45" ry="5.55" fill="#7a2c10" opacity="0.62" filter="url(#b2)"/>
<ellipse cx="191.07" cy="312.18" rx="4.35" ry="3.95" fill="#3d0c10" filter="url(#b1s)"/>
<ellipse cx="203.03" cy="312.15" rx="5.15" ry="5.25" fill="#7a2c10" opacity="0.62" filter="url(#b2)"/>
<ellipse cx="203.03" cy="312.15" rx="4.05" ry="3.65" fill="#3d0c10" filter="url(#b1s)"/>
<ellipse cx="214.99" cy="312.31" rx="5.45" ry="5.55" fill="#7a2c10" opacity="0.62" filter="url(#b2)"/>
<ellipse cx="214.99" cy="312.31" rx="4.35" ry="3.95" fill="#3d0c10" filter="url(#b1s)"/>
<ellipse cx="226.95" cy="311.77" rx="5.25" ry="5.35" fill="#7a2c10" opacity="0.62" filter="url(#b2)"/>
<ellipse cx="226.95" cy="311.77" rx="4.15" ry="3.75" fill="#3d0c10" filter="url(#b1s)"/>
<ellipse cx="238.92" cy="312.25" rx="5.45" ry="5.55" fill="#7a2c10" opacity="0.62" filter="url(#b2)"/>
<ellipse cx="238.92" cy="312.25" rx="4.35" ry="3.95" fill="#3d0c10" filter="url(#b1s)"/>
<ellipse cx="250.88" cy="312.46" rx="5.35" ry="5.45" fill="#7a2c10" opacity="0.62" filter="url(#b2)"/>
<ellipse cx="250.88" cy="312.46" rx="4.25" ry="3.85" fill="#3d0c10" filter="url(#b1s)"/>
<ellipse cx="262.84" cy="312.17" rx="5.15" ry="5.25" fill="#7a2c10" opacity="0.62" filter="url(#b2)"/>
<ellipse cx="262.84" cy="312.17" rx="4.05" ry="3.65" fill="#3d0c10" filter="url(#b1s)"/>
<ellipse cx="274.8" cy="312.04" rx="5.55" ry="5.65" fill="#7a2c10" opacity="0.62" filter="url(#b2)"/>
<ellipse cx="274.8" cy="312.04" rx="4.45" ry="4.05" fill="#3d0c10" filter="url(#b1s)"/>
<ellipse cx="286.76" cy="311.61" rx="5.45" ry="5.55" fill="#7a2c10" opacity="0.62" filter="url(#b2)"/>
<ellipse cx="286.76" cy="311.61" rx="4.35" ry="3.95" fill="#3d0c10" filter="url(#b1s)"/>
<ellipse cx="298.73" cy="311.99" rx="4.95" ry="5.05" fill="#7a2c10" opacity="0.62" filter="url(#b2)"/>
<ellipse cx="298.73" cy="311.99" rx="3.85" ry="3.45" fill="#3d0c10" filter="url(#b1s)"/>
<ellipse cx="310.69" cy="311.85" rx="5.35" ry="5.45" fill="#7a2c10" opacity="0.62" filter="url(#b2)"/>
<ellipse cx="310.69" cy="311.85" rx="4.25" ry="3.85" fill="#3d0c10" filter="url(#b1s)"/>
<ellipse cx="322.65" cy="312.22" rx="5.35" ry="5.45" fill="#7a2c10" opacity="0.62" filter="url(#b2)"/>
<ellipse cx="322.65" cy="312.22" rx="4.25" ry="3.85" fill="#3d0c10" filter="url(#b1s)"/>
<ellipse cx="334.61" cy="312.18" rx="5.15" ry="5.25" fill="#7a2c10" opacity="0.62" filter="url(#b2)"/>
<ellipse cx="334.61" cy="312.18" rx="4.05" ry="3.65" fill="#3d0c10" filter="url(#b1s)"/>
<ellipse cx="346.57" cy="312.07" rx="5.15" ry="5.25" fill="#7a2c10" opacity="0.62" filter="url(#b2)"/>
<ellipse cx="346.57" cy="312.07" rx="4.05" ry="3.65" fill="#3d0c10" filter="url(#b1s)"/>
<ellipse cx="358.54" cy="311.68" rx="5.35" ry="5.45" fill="#7a2c10" opacity="0.62" filter="url(#b2)"/>
<ellipse cx="358.54" cy="311.68" rx="4.25" ry="3.85" fill="#3d0c10" filter="url(#b1s)"/>
<ellipse cx="370.5" cy="312.15" rx="5.45" ry="5.55" fill="#7a2c10" opacity="0.62" filter="url(#b2)"/>
<ellipse cx="370.5" cy="312.15" rx="4.35" ry="3.95" fill="#3d0c10" filter="url(#b1s)"/>
</g>
<line x1="17" y1="345.2" x2="382.8" y2="345.2" stroke="#666" stroke-width="1.0"/>
<line x1="17.4" y1="337.4" x2="17.4" y2="345.2" stroke="#333" stroke-width="0.9"/>
<line x1="17.4" y1="337.9" x2="20.3" y2="337.9" stroke="#333" stroke-width="0.85"/>
<line x1="17.4" y1="341.3" x2="20.3" y2="341.3" stroke="#333" stroke-width="0.85"/>
<line x1="382.4" y1="341.4" x2="382.4" y2="345.6" stroke="#555" stroke-width="0.9"/>
<ellipse cx="24.2" cy="340.9" rx="3.6" ry="3.55" fill="#f80000" stroke="#1fdbe8" stroke-width="0.85"/>
<ellipse cx="36.16" cy="340.9" rx="3.6" ry="3.55" fill="#f80000" stroke="#1fdbe8" stroke-width="0.85"/>
<ellipse cx="48.12" cy="340.9" rx="3.6" ry="3.55" fill="#f80000" stroke="#1fdbe8" stroke-width="0.85"/>
<ellipse cx="60.09" cy="340.9" rx="3.6" ry="3.55" fill="#f80000" stroke="#1fdbe8" stroke-width="0.85"/>
<ellipse cx="72.05" cy="340.9" rx="3.6" ry="3.55" fill="#f80000" stroke="#1fdbe8" stroke-width="0.85"/>
<ellipse cx="84.01" cy="340.9" rx="3.6" ry="3.55" fill="#f80000" stroke="#1fdbe8" stroke-width="0.85"/>
<ellipse cx="95.97" cy="340.9" rx="3.6" ry="3.55" fill="#f80000" stroke="#1fdbe8" stroke-width="0.85"/>
<ellipse cx="107.93" cy="340.9" rx="3.6" ry="3.55" fill="#f80000" stroke="#1fdbe8" stroke-width="0.85"/>
<ellipse cx="119.9" cy="340.9" rx="3.6" ry="3.55" fill="#f80000" stroke="#1fdbe8" stroke-width="0.85"/>
<ellipse cx="131.86" cy="340.9" rx="3.6" ry="3.55" fill="#f80000" stroke="#1fdbe8" stroke-width="0.85"/>
<ellipse cx="143.82" cy="340.9" rx="3.6" ry="3.55" fill="#f80000" stroke="#1fdbe8" stroke-width="0.85"/>
<ellipse cx="155.78" cy="340.9" rx="3.6" ry="3.55" fill="#f80000" stroke="#1fdbe8" stroke-width="0.85"/>
<ellipse cx="167.74" cy="340.9" rx="3.6" ry="3.55" fill="#f80000" stroke="#1fdbe8" stroke-width="0.85"/>
<ellipse cx="179.71" cy="340.9" rx="3.6" ry="3.55" fill="#f80000" stroke="#1fdbe8" stroke-width="0.85"/>
<ellipse cx="191.67" cy="340.9" rx="3.6" ry="3.55" fill="#f80000" stroke="#1fdbe8" stroke-width="0.85"/>
<ellipse cx="203.63" cy="340.9" rx="3.6" ry="3.55" fill="#f80000" stroke="#1fdbe8" stroke-width="0.85"/>
<ellipse cx="215.59" cy="340.9" rx="3.6" ry="3.55" fill="#f80000" stroke="#1fdbe8" stroke-width="0.85"/>
<ellipse cx="227.55" cy="340.9" rx="3.6" ry="3.55" fill="#f80000" stroke="#1fdbe8" stroke-width="0.85"/>
<ellipse cx="239.52" cy="340.9" rx="3.6" ry="3.55" fill="#f80000" stroke="#1fdbe8" stroke-width="0.85"/>
<ellipse cx="251.48" cy="340.9" rx="3.6" ry="3.55" fill="#f80000" stroke="#1fdbe8" stroke-width="0.85"/>
<ellipse cx="263.44" cy="340.9" rx="3.6" ry="3.55" fill="#f80000" stroke="#1fdbe8" stroke-width="0.85"/>
<ellipse cx="275.4" cy="340.9" rx="3.6" ry="3.55" fill="#f80000" stroke="#1fdbe8" stroke-width="0.85"/>
<ellipse cx="287.36" cy="340.9" rx="3.6" ry="3.55" fill="#f80000" stroke="#1fdbe8" stroke-width="0.85"/>
<ellipse cx="299.33" cy="340.9" rx="3.6" ry="3.55" fill="#f80000" stroke="#1fdbe8" stroke-width="0.85"/>
<ellipse cx="311.29" cy="340.9" rx="3.6" ry="3.55" fill="#f80000" stroke="#1fdbe8" stroke-width="0.85"/>
<ellipse cx="323.25" cy="340.9" rx="3.6" ry="3.55" fill="#f80000" stroke="#1fdbe8" stroke-width="0.85"/>
<ellipse cx="335.21" cy="340.9" rx="3.6" ry="3.55" fill="#f80000" stroke="#1fdbe8" stroke-width="0.85"/>
<ellipse cx="347.17" cy="340.9" rx="3.6" ry="3.55" fill="#f80000" stroke="#1fdbe8" stroke-width="0.85"/>
<ellipse cx="359.14" cy="340.9" rx="3.6" ry="3.55" fill="#f80000" stroke="#1fdbe8" stroke-width="0.85"/>
<ellipse cx="371.1" cy="340.9" rx="3.6" ry="3.55" fill="#f80000" stroke="#1fdbe8" stroke-width="0.85"/>
<text x="24.1" y="354.6" font-size="8.6" font-weight="normal" text-anchor="middle" fill="#1c1c1c">0</text>
<text x="83.86" y="354.6" font-size="8.6" font-weight="normal" text-anchor="middle" fill="#1c1c1c">1</text>
<text x="143.62" y="354.6" font-size="8.6" font-weight="normal" text-anchor="middle" fill="#1c1c1c">2</text>
<text x="203.38" y="354.6" font-size="8.6" font-weight="normal" text-anchor="middle" fill="#1c1c1c">3</text>
<text x="263.14" y="354.6" font-size="8.6" font-weight="normal" text-anchor="middle" fill="#1c1c1c">4</text>
<text x="322.9" y="354.6" font-size="8.6" font-weight="normal" text-anchor="middle" fill="#1c1c1c">5</text>
<text x="382.66" y="354.6" font-size="8.6" font-weight="normal" text-anchor="middle" fill="#1c1c1c">6</text>
<text x="376" y="364.4" font-size="8.8" font-weight="normal" text-anchor="middle" fill="#1c1c1c">(mm)</text>
<path d="M71.68 545.8 L71.68 544.96 L72.87 389.47 L73.14 408.58 L73.41 425.36 L73.68 440.09 L73.94 453.02 L74.21 464.36 L74.48 474.32 L74.75 483.06 L75.02 490.74 L75.29 497.47 L75.55 503.38 L75.82 508.57 L76.09 513.12 L76.36 517.12 L76.63 520.62 L76.9 523.7 L77.16 526.4 L77.43 528.78 L77.7 530.86 L77.97 532.69 L78.24 534.29 L78.5 535.7 L78.77 536.93 L79.04 538.02 L79.31 538.97 L79.58 539.8 L79.85 540.54 L80.11 541.18 L80.38 541.75 L80.65 542.24 L80.92 542.68 L81.19 543.06 L81.45 543.39 L81.72 543.69 L81.99 543.95 L82.26 544.17 L82.53 544.37 L82.8 544.55 L83.06 544.7 L83.33 544.83 L83.6 544.95 L83.6 545.8 Z" stroke="none" stroke-width="1" fill="#06A2EA" stroke-linejoin="round"/>
<path d="M21.62 545.8 L24 545.8 L24 545.8 L25.19 386.95 L25.46 406.37 L25.73 423.42 L26 438.39 L26.26 451.52 L26.53 463.05 L26.8 473.17 L27.07 482.05 L27.34 489.85 L27.61 496.69 L27.87 502.69 L28.14 507.97 L28.41 512.59 L28.68 516.65 L28.95 520.22 L29.21 523.35 L29.48 526.09 L29.75 528.5 L30.02 530.62 L30.29 532.47 L30.56 534.1 L30.82 535.53 L31.09 536.79 L31.36 537.89 L31.63 538.86 L31.9 539.71 L32.17 540.45 L32.43 541.11 L32.7 541.68 L32.97 542.18 L33.24 542.63 L33.51 543.01 L33.77 543.35 L34.04 543.65 L34.31 543.92 L34.58 544.15 L34.85 544.35 L35.12 544.53 L35.38 544.68 L35.65 544.82 L35.92 544.94 L35.92 544.96 L37.11 389.47 L37.38 408.58 L37.65 425.36 L37.92 440.09 L38.18 453.02 L38.45 464.36 L38.72 474.32 L38.99 483.06 L39.26 490.74 L39.53 497.47 L39.79 503.38 L40.06 508.57 L40.33 513.12 L40.6 517.12 L40.87 520.62 L41.13 523.7 L41.4 526.4 L41.67 528.78 L41.94 530.86 L42.21 532.69 L42.48 534.29 L42.74 535.7 L43.01 536.93 L43.28 538.02 L43.55 538.97 L43.82 539.8 L44.09 540.54 L44.35 541.18 L44.62 541.75 L44.89 542.24 L45.16 542.68 L45.43 543.06 L45.69 543.39 L45.96 543.69 L46.23 543.95 L46.5 544.17 L46.77 544.37 L47.04 544.55 L47.3 544.7 L47.57 544.83 L47.84 544.95 L47.84 544.96 L49.03 389.47 L49.3 408.58 L49.57 425.36 L49.84 440.09 L50.1 453.02 L50.37 464.36 L50.64 474.32 L50.91 483.06 L51.18 490.74 L51.45 497.47 L51.71 503.38 L51.98 508.57 L52.25 513.12 L52.52 517.12 L52.79 520.62 L53.06 523.7 L53.32 526.4 L53.59 528.78 L53.86 530.86 L54.13 532.69 L54.4 534.29 L54.66 535.7 L54.93 536.93 L55.2 538.02 L55.47 538.97 L55.74 539.8 L56.01 540.54 L56.27 541.18 L56.54 541.75 L56.81 542.24 L57.08 542.68 L57.35 543.06 L57.61 543.39 L57.88 543.69 L58.15 543.95 L58.42 544.17 L58.69 544.37 L58.96 544.55 L59.22 544.7 L59.49 544.83 L59.76 544.95 L59.76 544.96 L60.95 389.47 L61.22 408.58 L61.49 425.36 L61.76 440.09 L62.02 453.02 L62.29 464.36 L62.56 474.32 L62.83 483.06 L63.1 490.74 L63.37 497.47 L63.63 503.38 L63.9 508.57 L64.17 513.12 L64.44 517.12 L64.71 520.62 L64.98 523.7 L65.24 526.4 L65.51 528.78 L65.78 530.86 L66.05 532.69 L66.32 534.29 L66.58 535.7 L66.85 536.93 L67.12 538.02 L67.39 538.97 L67.66 539.8 L67.93 540.54 L68.19 541.18 L68.46 541.75 L68.73 542.24 L69 542.68 L69.27 543.06 L69.53 543.39 L69.8 543.69 L70.07 543.95 L70.34 544.17 L70.61 544.37 L70.88 544.55 L71.14 544.7 L71.41 544.83 L71.68 544.95 L71.68 544.96 L72.87 389.47 L73.14 408.58 L73.41 425.36 L73.68 440.09 L73.94 453.02 L74.21 464.36 L74.48 474.32 L74.75 483.06 L75.02 490.74 L75.29 497.47 L75.55 503.38 L75.82 508.57 L76.09 513.12 L76.36 517.12 L76.63 520.62 L76.9 523.7 L77.16 526.4 L77.43 528.78 L77.7 530.86 L77.97 532.69 L78.24 534.29 L78.5 535.7 L78.77 536.93 L79.04 538.02 L79.31 538.97 L79.58 539.8 L79.85 540.54 L80.11 541.18 L80.38 541.75 L80.65 542.24 L80.92 542.68 L81.19 543.06 L81.45 543.39 L81.72 543.69 L81.99 543.95 L82.26 544.17 L82.53 544.37 L82.8 544.55 L83.06 544.7 L83.33 544.83 L83.6 544.95 L83.6 544.96 L84.79 389.47 L85.06 408.58 L85.33 425.36 L85.6 440.09 L85.86 453.02 L86.13 464.36 L86.4 474.32 L86.67 483.06 L86.94 490.74 L87.21 497.47 L87.47 503.38 L87.74 508.57 L88.01 513.12 L88.28 517.12 L88.55 520.62 L88.81 523.7 L89.08 526.4 L89.35 528.78 L89.62 530.86 L89.89 532.69 L90.16 534.29 L90.42 535.7 L90.69 536.93 L90.96 538.02 L91.23 538.97 L91.5 539.8 L91.77 540.54 L92.03 541.18 L92.3 541.75 L92.57 542.24 L92.84 542.68 L93.11 543.06 L93.37 543.39 L93.64 543.69 L93.91 543.95 L94.18 544.17 L94.45 544.37 L94.72 544.55 L94.98 544.7 L95.25 544.83 L95.52 544.95 L95.52 544.96 L96.71 389.47 L96.98 408.58 L97.25 425.36 L97.52 440.09 L97.78 453.02 L98.05 464.36 L98.32 474.32 L98.59 483.06 L98.86 490.74 L99.13 497.47 L99.39 503.38 L99.66 508.57 L99.93 513.12 L100.2 517.12 L100.47 520.62 L100.74 523.7 L101 526.4 L101.27 528.78 L101.54 530.86 L101.81 532.69 L102.08 534.29 L102.34 535.7 L102.61 536.93 L102.88 538.02 L103.15 538.97 L103.42 539.8 L103.69 540.54 L103.95 541.18 L104.22 541.75 L104.49 542.24 L104.76 542.68 L105.03 543.06 L105.29 543.39 L105.56 543.69 L105.83 543.95 L106.1 544.17 L106.37 544.37 L106.64 544.55 L106.9 544.7 L107.17 544.83 L107.44 544.95 L107.44 544.96 L108.63 389.47 L108.9 408.58 L109.17 425.36 L109.44 440.09 L109.7 453.02 L109.97 464.36 L110.24 474.32 L110.51 483.06 L110.78 490.74 L111.05 497.47 L111.31 503.38 L111.58 508.57 L111.85 513.12 L112.12 517.12 L112.39 520.62 L112.66 523.7 L112.92 526.4 L113.19 528.78 L113.46 530.86 L113.73 532.69 L114 534.29 L114.26 535.7 L114.53 536.93 L114.8 538.02 L115.07 538.97 L115.34 539.8 L115.61 540.54 L115.87 541.18 L116.14 541.75 L116.41 542.24 L116.68 542.68 L116.95 543.06 L117.21 543.39 L117.48 543.69 L117.75 543.95 L118.02 544.17 L118.29 544.37 L118.56 544.55 L118.82 544.7 L119.09 544.83 L119.36 544.95 L119.36 544.96 L120.55 389.47 L120.82 408.58 L121.09 425.36 L121.36 440.09 L121.62 453.02 L121.89 464.36 L122.16 474.32 L122.43 483.06 L122.7 490.74 L122.97 497.47 L123.23 503.38 L123.5 508.57 L123.77 513.12 L124.04 517.12 L124.31 520.62 L124.58 523.7 L124.84 526.4 L125.11 528.78 L125.38 530.86 L125.65 532.69 L125.92 534.29 L126.18 535.7 L126.45 536.93 L126.72 538.02 L126.99 538.97 L127.26 539.8 L127.53 540.54 L127.79 541.18 L128.06 541.75 L128.33 542.24 L128.6 542.68 L128.87 543.06 L129.13 543.39 L129.4 543.69 L129.67 543.95 L129.94 544.17 L130.21 544.37 L130.48 544.55 L130.74 544.7 L131.01 544.83 L131.28 544.95 L131.28 544.96 L132.47 389.47 L132.74 408.58 L133.01 425.36 L133.28 440.09 L133.54 453.02 L133.81 464.36 L134.08 474.32 L134.35 483.06 L134.62 490.74 L134.89 497.47 L135.15 503.38 L135.42 508.57 L135.69 513.12 L135.96 517.12 L136.23 520.62 L136.5 523.7 L136.76 526.4 L137.03 528.78 L137.3 530.86 L137.57 532.69 L137.84 534.29 L138.1 535.7 L138.37 536.93 L138.64 538.02 L138.91 538.97 L139.18 539.8 L139.45 540.54 L139.71 541.18 L139.98 541.75 L140.25 542.24 L140.52 542.68 L140.79 543.06 L141.05 543.39 L141.32 543.69 L141.59 543.95 L141.86 544.17 L142.13 544.37 L142.4 544.55 L142.66 544.7 L142.93 544.83 L143.2 544.95 L143.2 544.96 L144.39 389.47 L144.66 408.58 L144.93 425.36 L145.2 440.09 L145.46 453.02 L145.73 464.36 L146 474.32 L146.27 483.06 L146.54 490.74 L146.81 497.47 L147.07 503.38 L147.34 508.57 L147.61 513.12 L147.88 517.12 L148.15 520.62 L148.41 523.7 L148.68 526.4 L148.95 528.78 L149.22 530.86 L149.49 532.69 L149.76 534.29 L150.02 535.7 L150.29 536.93 L150.56 538.02 L150.83 538.97 L151.1 539.8 L151.37 540.54 L151.63 541.18 L151.9 541.75 L152.17 542.24 L152.44 542.68 L152.71 543.06 L152.97 543.39 L153.24 543.69 L153.51 543.95 L153.78 544.17 L154.05 544.37 L154.32 544.55 L154.58 544.7 L154.85 544.83 L155.12 544.95 L155.12 544.96 L156.31 389.47 L156.58 408.58 L156.85 425.36 L157.12 440.09 L157.38 453.02 L157.65 464.36 L157.92 474.32 L158.19 483.06 L158.46 490.74 L158.73 497.47 L158.99 503.38 L159.26 508.57 L159.53 513.12 L159.8 517.12 L160.07 520.62 L160.34 523.7 L160.6 526.4 L160.87 528.78 L161.14 530.86 L161.41 532.69 L161.68 534.29 L161.94 535.7 L162.21 536.93 L162.48 538.02 L162.75 538.97 L163.02 539.8 L163.29 540.54 L163.55 541.18 L163.82 541.75 L164.09 542.24 L164.36 542.68 L164.63 543.06 L164.89 543.39 L165.16 543.69 L165.43 543.95 L165.7 544.17 L165.97 544.37 L166.24 544.55 L166.5 544.7 L166.77 544.83 L167.04 544.95 L167.04 544.96 L168.23 389.47 L168.5 408.58 L168.77 425.36 L169.04 440.09 L169.3 453.02 L169.57 464.36 L169.84 474.32 L170.11 483.06 L170.38 490.74 L170.65 497.47 L170.91 503.38 L171.18 508.57 L171.45 513.12 L171.72 517.12 L171.99 520.62 L172.26 523.7 L172.52 526.4 L172.79 528.78 L173.06 530.86 L173.33 532.69 L173.6 534.29 L173.86 535.7 L174.13 536.93 L174.4 538.02 L174.67 538.97 L174.94 539.8 L175.21 540.54 L175.47 541.18 L175.74 541.75 L176.01 542.24 L176.28 542.68 L176.55 543.06 L176.81 543.39 L177.08 543.69 L177.35 543.95 L177.62 544.17 L177.89 544.37 L178.16 544.55 L178.42 544.7 L178.69 544.83 L178.96 544.95 L178.96 544.96 L180.15 389.47 L180.42 408.58 L180.69 425.36 L180.96 440.09 L181.22 453.02 L181.49 464.36 L181.76 474.32 L182.03 483.06 L182.3 490.74 L182.57 497.47 L182.83 503.38 L183.1 508.57 L183.37 513.12 L183.64 517.12 L183.91 520.62 L184.18 523.7 L184.44 526.4 L184.71 528.78 L184.98 530.86 L185.25 532.69 L185.52 534.29 L185.78 535.7 L186.05 536.93 L186.32 538.02 L186.59 538.97 L186.86 539.8 L187.13 540.54 L187.39 541.18 L187.66 541.75 L187.93 542.24 L188.2 542.68 L188.47 543.06 L188.73 543.39 L189 543.69 L189.27 543.95 L189.54 544.17 L189.81 544.37 L190.08 544.55 L190.34 544.7 L190.61 544.83 L190.88 544.95 L190.88 544.96 L192.07 389.47 L192.34 408.58 L192.61 425.36 L192.88 440.09 L193.14 453.02 L193.41 464.36 L193.68 474.32 L193.95 483.06 L194.22 490.74 L194.49 497.47 L194.75 503.38 L195.02 508.57 L195.29 513.12 L195.56 517.12 L195.83 520.62 L196.1 523.7 L196.36 526.4 L196.63 528.78 L196.9 530.86 L197.17 532.69 L197.44 534.29 L197.7 535.7 L197.97 536.93 L198.24 538.02 L198.51 538.97 L198.78 539.8 L199.05 540.54 L199.31 541.18 L199.58 541.75 L199.85 542.24 L200.12 542.68 L200.39 543.06 L200.65 543.39 L200.92 543.69 L201.19 543.95 L201.46 544.17 L201.73 544.37 L202 544.55 L202.26 544.7 L202.53 544.83 L202.8 544.95 L202.8 544.96 L203.99 389.47 L204.26 408.58 L204.53 425.36 L204.8 440.09 L205.06 453.02 L205.33 464.36 L205.6 474.32 L205.87 483.06 L206.14 490.74 L206.41 497.47 L206.67 503.38 L206.94 508.57 L207.21 513.12 L207.48 517.12 L207.75 520.62 L208.01 523.7 L208.28 526.4 L208.55 528.78 L208.82 530.86 L209.09 532.69 L209.36 534.29 L209.62 535.7 L209.89 536.93 L210.16 538.02 L210.43 538.97 L210.7 539.8 L210.97 540.54 L211.23 541.18 L211.5 541.75 L211.77 542.24 L212.04 542.68 L212.31 543.06 L212.57 543.39 L212.84 543.69 L213.11 543.95 L213.38 544.17 L213.65 544.37 L213.92 544.55 L214.18 544.7 L214.45 544.83 L214.72 544.95 L214.72 544.96 L215.91 389.47 L216.18 408.58 L216.45 425.36 L216.72 440.09 L216.98 453.02 L217.25 464.36 L217.52 474.32 L217.79 483.06 L218.06 490.74 L218.33 497.47 L218.59 503.38 L218.86 508.57 L219.13 513.12 L219.4 517.12 L219.67 520.62 L219.94 523.7 L220.2 526.4 L220.47 528.78 L220.74 530.86 L221.01 532.69 L221.28 534.29 L221.54 535.7 L221.81 536.93 L222.08 538.02 L222.35 538.97 L222.62 539.8 L222.89 540.54 L223.15 541.18 L223.42 541.75 L223.69 542.24 L223.96 542.68 L224.23 543.06 L224.49 543.39 L224.76 543.69 L225.03 543.95 L225.3 544.17 L225.57 544.37 L225.84 544.55 L226.1 544.7 L226.37 544.83 L226.64 544.95 L226.64 544.96 L227.83 389.47 L228.1 408.58 L228.37 425.36 L228.64 440.09 L228.9 453.02 L229.17 464.36 L229.44 474.32 L229.71 483.06 L229.98 490.74 L230.25 497.47 L230.51 503.38 L230.78 508.57 L231.05 513.12 L231.32 517.12 L231.59 520.62 L231.86 523.7 L232.12 526.4 L232.39 528.78 L232.66 530.86 L232.93 532.69 L233.2 534.29 L233.46 535.7 L233.73 536.93 L234 538.02 L234.27 538.97 L234.54 539.8 L234.81 540.54 L235.07 541.18 L235.34 541.75 L235.61 542.24 L235.88 542.68 L236.15 543.06 L236.41 543.39 L236.68 543.69 L236.95 543.95 L237.22 544.17 L237.49 544.37 L237.76 544.55 L238.02 544.7 L238.29 544.83 L238.56 544.95 L238.56 544.96 L239.75 389.47 L240.02 408.58 L240.29 425.36 L240.56 440.09 L240.82 453.02 L241.09 464.36 L241.36 474.32 L241.63 483.06 L241.9 490.74 L242.17 497.47 L242.43 503.38 L242.7 508.57 L242.97 513.12 L243.24 517.12 L243.51 520.62 L243.78 523.7 L244.04 526.4 L244.31 528.78 L244.58 530.86 L244.85 532.69 L245.12 534.29 L245.38 535.7 L245.65 536.93 L245.92 538.02 L246.19 538.97 L246.46 539.8 L246.73 540.54 L246.99 541.18 L247.26 541.75 L247.53 542.24 L247.8 542.68 L248.07 543.06 L248.33 543.39 L248.6 543.69 L248.87 543.95 L249.14 544.17 L249.41 544.37 L249.68 544.55 L249.94 544.7 L250.21 544.83 L250.48 544.95 L250.48 544.96 L251.67 389.47 L251.94 408.58 L252.21 425.36 L252.48 440.09 L252.74 453.02 L253.01 464.36 L253.28 474.32 L253.55 483.06 L253.82 490.74 L254.09 497.47 L254.35 503.38 L254.62 508.57 L254.89 513.12 L255.16 517.12 L255.43 520.62 L255.7 523.7 L255.96 526.4 L256.23 528.78 L256.5 530.86 L256.77 532.69 L257.04 534.29 L257.3 535.7 L257.57 536.93 L257.84 538.02 L258.11 538.97 L258.38 539.8 L258.65 540.54 L258.91 541.18 L259.18 541.75 L259.45 542.24 L259.72 542.68 L259.99 543.06 L260.25 543.39 L260.52 543.69 L260.79 543.95 L261.06 544.17 L261.33 544.37 L261.6 544.55 L261.86 544.7 L262.13 544.83 L262.4 544.95 L262.4 544.96 L263.59 389.47 L263.86 408.58 L264.13 425.36 L264.4 440.09 L264.66 453.02 L264.93 464.36 L265.2 474.32 L265.47 483.06 L265.74 490.74 L266.01 497.47 L266.27 503.38 L266.54 508.57 L266.81 513.12 L267.08 517.12 L267.35 520.62 L267.62 523.7 L267.88 526.4 L268.15 528.78 L268.42 530.86 L268.69 532.69 L268.96 534.29 L269.22 535.7 L269.49 536.93 L269.76 538.02 L270.03 538.97 L270.3 539.8 L270.57 540.54 L270.83 541.18 L271.1 541.75 L271.37 542.24 L271.64 542.68 L271.91 543.06 L272.17 543.39 L272.44 543.69 L272.71 543.95 L272.98 544.17 L273.25 544.37 L273.52 544.55 L273.78 544.7 L274.05 544.83 L274.32 544.95 L274.32 544.96 L275.51 389.47 L275.78 408.58 L276.05 425.36 L276.32 440.09 L276.58 453.02 L276.85 464.36 L277.12 474.32 L277.39 483.06 L277.66 490.74 L277.93 497.47 L278.19 503.38 L278.46 508.57 L278.73 513.12 L279 517.12 L279.27 520.62 L279.53 523.7 L279.8 526.4 L280.07 528.78 L280.34 530.86 L280.61 532.69 L280.88 534.29 L281.14 535.7 L281.41 536.93 L281.68 538.02 L281.95 538.97 L282.22 539.8 L282.49 540.54 L282.75 541.18 L283.02 541.75 L283.29 542.24 L283.56 542.68 L283.83 543.06 L284.09 543.39 L284.36 543.69 L284.63 543.95 L284.9 544.17 L285.17 544.37 L285.44 544.55 L285.7 544.7 L285.97 544.83 L286.24 544.95 L286.24 544.96 L287.43 389.47 L287.7 408.58 L287.97 425.36 L288.24 440.09 L288.5 453.02 L288.77 464.36 L289.04 474.32 L289.31 483.06 L289.58 490.74 L289.85 497.47 L290.11 503.38 L290.38 508.57 L290.65 513.12 L290.92 517.12 L291.19 520.62 L291.45 523.7 L291.72 526.4 L291.99 528.78 L292.26 530.86 L292.53 532.69 L292.8 534.29 L293.06 535.7 L293.33 536.93 L293.6 538.02 L293.87 538.97 L294.14 539.8 L294.41 540.54 L294.67 541.18 L294.94 541.75 L295.21 542.24 L295.48 542.68 L295.75 543.06 L296.01 543.39 L296.28 543.69 L296.55 543.95 L296.82 544.17 L297.09 544.37 L297.36 544.55 L297.62 544.7 L297.89 544.83 L298.16 544.95 L298.16 544.96 L299.35 389.47 L299.62 408.58 L299.89 425.36 L300.16 440.09 L300.42 453.02 L300.69 464.36 L300.96 474.32 L301.23 483.06 L301.5 490.74 L301.77 497.47 L302.03 503.38 L302.3 508.57 L302.57 513.12 L302.84 517.12 L303.11 520.62 L303.38 523.7 L303.64 526.4 L303.91 528.78 L304.18 530.86 L304.45 532.69 L304.72 534.29 L304.98 535.7 L305.25 536.93 L305.52 538.02 L305.79 538.97 L306.06 539.8 L306.33 540.54 L306.59 541.18 L306.86 541.75 L307.13 542.24 L307.4 542.68 L307.67 543.06 L307.93 543.39 L308.2 543.69 L308.47 543.95 L308.74 544.17 L309.01 544.37 L309.28 544.55 L309.54 544.7 L309.81 544.83 L310.08 544.95 L310.08 544.96 L311.27 389.47 L311.54 408.58 L311.81 425.36 L312.08 440.09 L312.34 453.02 L312.61 464.36 L312.88 474.32 L313.15 483.06 L313.42 490.74 L313.69 497.47 L313.95 503.38 L314.22 508.57 L314.49 513.12 L314.76 517.12 L315.03 520.62 L315.3 523.7 L315.56 526.4 L315.83 528.78 L316.1 530.86 L316.37 532.69 L316.64 534.29 L316.9 535.7 L317.17 536.93 L317.44 538.02 L317.71 538.97 L317.98 539.8 L318.25 540.54 L318.51 541.18 L318.78 541.75 L319.05 542.24 L319.32 542.68 L319.59 543.06 L319.85 543.39 L320.12 543.69 L320.39 543.95 L320.66 544.17 L320.93 544.37 L321.2 544.55 L321.46 544.7 L321.73 544.83 L322 544.95 L322 544.96 L323.19 389.47 L323.46 408.58 L323.73 425.36 L324 440.09 L324.26 453.02 L324.53 464.36 L324.8 474.32 L325.07 483.06 L325.34 490.74 L325.61 497.47 L325.87 503.38 L326.14 508.57 L326.41 513.12 L326.68 517.12 L326.95 520.62 L327.21 523.7 L327.48 526.4 L327.75 528.78 L328.02 530.86 L328.29 532.69 L328.56 534.29 L328.82 535.7 L329.09 536.93 L329.36 538.02 L329.63 538.97 L329.9 539.8 L330.17 540.54 L330.43 541.18 L330.7 541.75 L330.97 542.24 L331.24 542.68 L331.51 543.06 L331.77 543.39 L332.04 543.69 L332.31 543.95 L332.58 544.17 L332.85 544.37 L333.12 544.55 L333.38 544.7 L333.65 544.83 L333.92 544.95 L333.92 544.96 L335.11 389.47 L335.38 408.58 L335.65 425.36 L335.92 440.09 L336.18 453.02 L336.45 464.36 L336.72 474.32 L336.99 483.06 L337.26 490.74 L337.53 497.47 L337.79 503.38 L338.06 508.57 L338.33 513.12 L338.6 517.12 L338.87 520.62 L339.13 523.7 L339.4 526.4 L339.67 528.78 L339.94 530.86 L340.21 532.69 L340.48 534.29 L340.74 535.7 L341.01 536.93 L341.28 538.02 L341.55 538.97 L341.82 539.8 L342.09 540.54 L342.35 541.18 L342.62 541.75 L342.89 542.24 L343.16 542.68 L343.43 543.06 L343.69 543.39 L343.96 543.69 L344.23 543.95 L344.5 544.17 L344.77 544.37 L345.04 544.55 L345.3 544.7 L345.57 544.83 L345.84 544.95 L345.84 544.96 L347.03 389.47 L347.3 408.58 L347.57 425.36 L347.84 440.09 L348.1 453.02 L348.37 464.36 L348.64 474.32 L348.91 483.06 L349.18 490.74 L349.45 497.47 L349.71 503.38 L349.98 508.57 L350.25 513.12 L350.52 517.12 L350.79 520.62 L351.06 523.7 L351.32 526.4 L351.59 528.78 L351.86 530.86 L352.13 532.69 L352.4 534.29 L352.66 535.7 L352.93 536.93 L353.2 538.02 L353.47 538.97 L353.74 539.8 L354.01 540.54 L354.27 541.18 L354.54 541.75 L354.81 542.24 L355.08 542.68 L355.35 543.06 L355.61 543.39 L355.88 543.69 L356.15 543.95 L356.42 544.17 L356.69 544.37 L356.96 544.55 L357.22 544.7 L357.49 544.83 L357.76 544.95 L357.76 544.96 L358.95 389.47 L359.22 408.58 L359.49 425.36 L359.76 440.09 L360.02 453.02 L360.29 464.36 L360.56 474.32 L360.83 483.06 L361.1 490.74 L361.37 497.47 L361.63 503.38 L361.9 508.57 L362.17 513.12 L362.44 517.12 L362.71 520.62 L362.98 523.7 L363.24 526.4 L363.51 528.78 L363.78 530.86 L364.05 532.69 L364.32 534.29 L364.58 535.7 L364.85 536.93 L365.12 538.02 L365.39 538.97 L365.66 539.8 L365.93 540.54 L366.19 541.18 L366.46 541.75 L366.73 542.24 L367 542.68 L367.27 543.06 L367.53 543.39 L367.8 543.69 L368.07 543.95 L368.34 544.17 L368.61 544.37 L368.88 544.55 L369.14 544.7 L369.41 544.83 L369.68 544.95 L369.68 544.96 L370.87 389.47 L371.14 408.58 L371.41 425.36 L371.68 440.09 L371.94 453.02 L372.21 464.36 L372.48 474.32 L372.75 483.06 L373.02 490.74 L373.29 497.47 L373.55 503.38 L373.82 508.57 L374.09 513.12 L374.36 517.12 L374.63 520.62 L374.9 523.7 L375.16 526.4 L375.43 528.78 L375.7 530.86 L375.97 532.69 L376.24 534.29 L376.5 535.7 L376.77 536.93 L377.04 538.02 L377.31 538.97 L377.58 539.8 L377.85 540.54 L378.11 541.18 L378.38 541.75 L378.65 542.24 L378.92 542.68 L379.19 543.06 L379.45 543.39 L379.72 543.69 L379.99 543.95 L380.26 544.17 L380.53 544.37 L380.8 544.55 L381.06 544.7 L381.33 544.83 L381.6 544.95" stroke="#0f76c2" stroke-width="0.95" fill="none" stroke-linejoin="round"/>
<line x1="20.9" y1="377.7" x2="381.5" y2="377.7" stroke="#666" stroke-width="0.9"/>
<line x1="381.5" y1="377.7" x2="381.5" y2="547.3" stroke="#666" stroke-width="0.9"/>
<line x1="20.9" y1="377.25" x2="20.9" y2="547.8" stroke="#666" stroke-width="0.95"/>
<line x1="20.42" y1="547.3" x2="381.95" y2="547.3" stroke="#666" stroke-width="1.0"/>
<line x1="24" y1="547.3" x2="24" y2="544.3" stroke="#3a3a3a" stroke-width="0.8"/>
<line x1="24" y1="377.7" x2="24" y2="380.7" stroke="#3a3a3a" stroke-width="0.8"/>
<text x="24" y="556" font-size="8.6" font-weight="normal" text-anchor="middle" fill="#1c1c1c">0</text>
<line x1="83.6" y1="547.3" x2="83.6" y2="544.3" stroke="#3a3a3a" stroke-width="0.8"/>
<line x1="83.6" y1="377.7" x2="83.6" y2="380.7" stroke="#3a3a3a" stroke-width="0.8"/>
<text x="83.6" y="556" font-size="8.6" font-weight="normal" text-anchor="middle" fill="#1c1c1c">1</text>
<line x1="143.2" y1="547.3" x2="143.2" y2="544.3" stroke="#3a3a3a" stroke-width="0.8"/>
<line x1="143.2" y1="377.7" x2="143.2" y2="380.7" stroke="#3a3a3a" stroke-width="0.8"/>
<text x="143.2" y="556" font-size="8.6" font-weight="normal" text-anchor="middle" fill="#1c1c1c">2</text>
<line x1="202.8" y1="547.3" x2="202.8" y2="544.3" stroke="#3a3a3a" stroke-width="0.8"/>
<line x1="202.8" y1="377.7" x2="202.8" y2="380.7" stroke="#3a3a3a" stroke-width="0.8"/>
<text x="202.8" y="556" font-size="8.6" font-weight="normal" text-anchor="middle" fill="#1c1c1c">3</text>
<line x1="262.4" y1="547.3" x2="262.4" y2="544.3" stroke="#3a3a3a" stroke-width="0.8"/>
<line x1="262.4" y1="377.7" x2="262.4" y2="380.7" stroke="#3a3a3a" stroke-width="0.8"/>
<text x="262.4" y="556" font-size="8.6" font-weight="normal" text-anchor="middle" fill="#1c1c1c">4</text>
<line x1="322" y1="547.3" x2="322" y2="544.3" stroke="#3a3a3a" stroke-width="0.8"/>
<line x1="322" y1="377.7" x2="322" y2="380.7" stroke="#3a3a3a" stroke-width="0.8"/>
<text x="322" y="556" font-size="8.6" font-weight="normal" text-anchor="middle" fill="#1c1c1c">5</text>
<line x1="381.6" y1="547.3" x2="381.6" y2="544.3" stroke="#3a3a3a" stroke-width="0.8"/>
<line x1="381.6" y1="377.7" x2="381.6" y2="380.7" stroke="#3a3a3a" stroke-width="0.8"/>
<text x="382.4" y="556" font-size="8.6" font-weight="normal" text-anchor="middle" fill="#1c1c1c">6</text>
<line x1="20.9" y1="545.8" x2="23.9" y2="545.8" stroke="#3a3a3a" stroke-width="0.8"/>
<line x1="381.5" y1="545.8" x2="378.5" y2="545.8" stroke="#3a3a3a" stroke-width="0.8"/>
<text x="18.4" y="548.6" font-size="8.6" font-weight="normal" text-anchor="end" fill="#1c1c1c">0</text>
<line x1="20.9" y1="528.99" x2="23.9" y2="528.99" stroke="#3a3a3a" stroke-width="0.8"/>
<line x1="381.5" y1="528.99" x2="378.5" y2="528.99" stroke="#3a3a3a" stroke-width="0.8"/>
<text x="18.4" y="531.79" font-size="8.6" font-weight="normal" text-anchor="end" fill="#1c1c1c">1</text>
<line x1="20.9" y1="512.18" x2="23.9" y2="512.18" stroke="#3a3a3a" stroke-width="0.8"/>
<line x1="381.5" y1="512.18" x2="378.5" y2="512.18" stroke="#3a3a3a" stroke-width="0.8"/>
<text x="18.4" y="514.98" font-size="8.6" font-weight="normal" text-anchor="end" fill="#1c1c1c">2</text>
<line x1="20.9" y1="495.37" x2="23.9" y2="495.37" stroke="#3a3a3a" stroke-width="0.8"/>
<line x1="381.5" y1="495.37" x2="378.5" y2="495.37" stroke="#3a3a3a" stroke-width="0.8"/>
<text x="18.4" y="498.17" font-size="8.6" font-weight="normal" text-anchor="end" fill="#1c1c1c">3</text>
<line x1="20.9" y1="478.56" x2="23.9" y2="478.56" stroke="#3a3a3a" stroke-width="0.8"/>
<line x1="381.5" y1="478.56" x2="378.5" y2="478.56" stroke="#3a3a3a" stroke-width="0.8"/>
<text x="18.4" y="481.36" font-size="8.6" font-weight="normal" text-anchor="end" fill="#1c1c1c">4</text>
<line x1="20.9" y1="461.75" x2="23.9" y2="461.75" stroke="#3a3a3a" stroke-width="0.8"/>
<line x1="381.5" y1="461.75" x2="378.5" y2="461.75" stroke="#3a3a3a" stroke-width="0.8"/>
<text x="18.4" y="464.55" font-size="8.6" font-weight="normal" text-anchor="end" fill="#1c1c1c">5</text>
<line x1="20.9" y1="444.94" x2="23.9" y2="444.94" stroke="#3a3a3a" stroke-width="0.8"/>
<line x1="381.5" y1="444.94" x2="378.5" y2="444.94" stroke="#3a3a3a" stroke-width="0.8"/>
<text x="18.4" y="447.74" font-size="8.6" font-weight="normal" text-anchor="end" fill="#1c1c1c">6</text>
<line x1="20.9" y1="428.13" x2="23.9" y2="428.13" stroke="#3a3a3a" stroke-width="0.8"/>
<line x1="381.5" y1="428.13" x2="378.5" y2="428.13" stroke="#3a3a3a" stroke-width="0.8"/>
<text x="18.4" y="430.93" font-size="8.6" font-weight="normal" text-anchor="end" fill="#1c1c1c">7</text>
<line x1="20.9" y1="411.32" x2="23.9" y2="411.32" stroke="#3a3a3a" stroke-width="0.8"/>
<line x1="381.5" y1="411.32" x2="378.5" y2="411.32" stroke="#3a3a3a" stroke-width="0.8"/>
<text x="18.4" y="414.12" font-size="8.6" font-weight="normal" text-anchor="end" fill="#1c1c1c">8</text>
<line x1="20.9" y1="394.51" x2="23.9" y2="394.51" stroke="#3a3a3a" stroke-width="0.8"/>
<line x1="381.5" y1="394.51" x2="378.5" y2="394.51" stroke="#3a3a3a" stroke-width="0.8"/>
<text x="18.4" y="397.31" font-size="8.6" font-weight="normal" text-anchor="end" fill="#1c1c1c">9</text>
<line x1="20.9" y1="377.7" x2="23.9" y2="377.7" stroke="#3a3a3a" stroke-width="0.8"/>
<line x1="381.5" y1="377.7" x2="378.5" y2="377.7" stroke="#3a3a3a" stroke-width="0.8"/>
<text x="18.4" y="380.5" font-size="8.6" font-weight="normal" text-anchor="end" fill="#1c1c1c">10</text>
<text x="206.5" y="564.6" font-size="9.3" font-weight="bold" text-anchor="middle" fill="#0a0a0a" stroke="#0a0a0a" stroke-width="0.28">Time (s)</text>
<text x="365.2" y="566.2" font-size="8.8" font-weight="normal" text-anchor="start" fill="#1c1c1c">×10</text>
<text x="379.8" y="563" font-size="8.6" font-weight="normal" text-anchor="start" fill="#1c1c1c">-3</text>
<text x="8.3" y="451.4" font-size="9.6" font-weight="bold" text-anchor="middle" fill="#0a0a0a" transform="rotate(-90 8.3 451.4)" stroke="#0a0a0a" stroke-width="0.28">Power laser (W)</text>
<line x1="95.6" y1="389.5" x2="95.6" y2="546.5" stroke="#ff1c1c" stroke-width="1.15" stroke-dasharray="3.5 1.9"/>
<line x1="96.6" y1="389.5" x2="96.6" y2="546.5" stroke="#ff1c1c" stroke-width="1.15" stroke-dasharray="3.5 1.9"/>
<line x1="107.5" y1="389.5" x2="107.5" y2="546.5" stroke="#ff1c1c" stroke-width="1.15" stroke-dasharray="3.5 1.9"/>
<line x1="97.8" y1="385.4" x2="105.1" y2="385.4" stroke="#ff5252" stroke-width="1.3"/>
<polygon points="107.8,385.4 103.3,387.65 103.3,383.15" fill="#ff0a0a"/>
<polygon points="95.1,385.4 99.6,383.15 99.6,387.65" fill="#ff0a0a"/>
<text x="110.4" y="387.7" font-size="9.6" font-weight="bold" text-anchor="start" fill="#0a0a0a" stroke="#0a0a0a" stroke-width="0.28">Period = 1/5 kHz</text>
<text x="108.2" y="465.5" font-size="8.65" font-weight="bold" text-anchor="start" fill="#0a0a0a" stroke="#0a0a0a" stroke-width="0.28">Duty cycle = 10%</text>
<line x1="84" y1="461.6" x2="92.68" y2="461.6" stroke="#000" stroke-width="1.0"/>
<polygon points="95.2,461.6 91,463.36 91,459.84" fill="#000"/>
<line x1="106.8" y1="461.6" x2="99.52" y2="461.6" stroke="#000" stroke-width="1.0"/>
<polygon points="97,461.6 101.2,459.84 101.2,463.36" fill="#000"/>
<text x="28.7" y="562" font-size="8.35" font-weight="bold" text-anchor="start" fill="#0a0a0a" stroke="#0a0a0a" stroke-width="0.28">Laser Energy</text>
<line x1="71.7" y1="556.2" x2="75.87" y2="548.16" stroke="#000" stroke-width="1.0"/>
<polygon points="77.2,545.6 76.78,550.79 73.2,548.93" fill="#000"/>
<text x="395.8" y="8.5" font-size="10" font-weight="bold" text-anchor="start" fill="#0a0a0a" font-family="DejaVu Sans, sans-serif" letter-spacing="0.4" stroke="#0a0a0a" stroke-width="0.28">(c)</text>
<text x="600" y="9.5" font-size="9.5" font-weight="bold" text-anchor="middle" fill="#0a0a0a" stroke="#0a0a0a" stroke-width="0.28">Real sample</text>
<text x="606" y="70.9" font-size="9.5" font-weight="bold" text-anchor="middle" fill="#0a0a0a" stroke="#0a0a0a" stroke-width="0.28">Digital twins</text>
<g clip-path="url(#cc)">
<rect x="424.8" y="14" width="360.4" height="25.7" fill="url(#gc)"/>
<rect x="424.8" y="14" width="360.4" height="25.7" fill="url(#gch)"/>
<ellipse cx="652.12" cy="15.98" rx="26.4" ry="2.64" fill="#f0be30" opacity="0.5" filter="url(#b2)"/>
<ellipse cx="760.46" cy="18.18" rx="20.9" ry="3.12" fill="#d9a624" opacity="0.5" filter="url(#b2)"/>
<ellipse cx="624.77" cy="16.33" rx="14.25" ry="1.94" fill="#f0be30" opacity="0.5" filter="url(#b2)"/>
<ellipse cx="463.67" cy="17.52" rx="18.86" ry="3.35" fill="#ecb82a" opacity="0.5" filter="url(#b2)"/>
<ellipse cx="460.95" cy="35.53" rx="25.45" ry="1.61" fill="#ecb82a" opacity="0.5" filter="url(#b2)"/>
<ellipse cx="513.99" cy="37.5" rx="26.9" ry="2.62" fill="#f0be30" opacity="0.5" filter="url(#b2)"/>
<ellipse cx="552.04" cy="15.11" rx="19.8" ry="3.2" fill="#f0be30" opacity="0.5" filter="url(#b2)"/>
<ellipse cx="491.54" cy="16.77" rx="21.4" ry="2.48" fill="#d8a422" opacity="0.5" filter="url(#b2)"/>
<ellipse cx="638.09" cy="17.94" rx="23.96" ry="2.86" fill="#d8a422" opacity="0.5" filter="url(#b2)"/>
<ellipse cx="629.61" cy="17.97" rx="15.39" ry="2.23" fill="#d9a624" opacity="0.5" filter="url(#b2)"/>
<ellipse cx="745.83" cy="35.26" rx="26.12" ry="2.27" fill="#d9a624" opacity="0.5" filter="url(#b2)"/>
<ellipse cx="776.71" cy="37.58" rx="21.35" ry="1.58" fill="#d8a422" opacity="0.5" filter="url(#b2)"/>
<ellipse cx="686.66" cy="14.93" rx="23.12" ry="2.08" fill="#d8a422" opacity="0.5" filter="url(#b2)"/>
<ellipse cx="613.51" cy="34.8" rx="23.64" ry="2.03" fill="#d9a624" opacity="0.5" filter="url(#b2)"/>
<ellipse cx="465.17" cy="37.84" rx="25.84" ry="1.84" fill="#f0be30" opacity="0.5" filter="url(#b2)"/>
<ellipse cx="649.38" cy="14.6" rx="20.37" ry="2.76" fill="#d9a624" opacity="0.5" filter="url(#b2)"/>
<ellipse cx="619" cy="35.29" rx="25.41" ry="3.24" fill="#d8a422" opacity="0.5" filter="url(#b2)"/>
<ellipse cx="453.99" cy="17.36" rx="22.79" ry="2.36" fill="#d8a422" opacity="0.5" filter="url(#b2)"/>
<ellipse cx="760.43" cy="16.25" rx="23.14" ry="2.71" fill="#f0be30" opacity="0.5" filter="url(#b2)"/>
<ellipse cx="708.28" cy="34.31" rx="12.01" ry="1.9" fill="#d9a624" opacity="0.5" filter="url(#b2)"/>
<ellipse cx="595.38" cy="16.65" rx="16.44" ry="3.12" fill="#ecb82a" opacity="0.5" filter="url(#b2)"/>
<ellipse cx="433.41" cy="37.03" rx="16.03" ry="1.95" fill="#f0be30" opacity="0.5" filter="url(#b2)"/>
<ellipse cx="684.09" cy="37.4" rx="16.95" ry="2.4" fill="#d9a624" opacity="0.5" filter="url(#b2)"/>
<ellipse cx="505.58" cy="17.72" rx="13.17" ry="2.42" fill="#d9a624" opacity="0.5" filter="url(#b2)"/>
<ellipse cx="617.18" cy="15.34" rx="11.42" ry="2.51" fill="#d8a422" opacity="0.5" filter="url(#b2)"/>
<ellipse cx="654.22" cy="14.94" rx="11.36" ry="2.73" fill="#f0be30" opacity="0.5" filter="url(#b2)"/>
<ellipse cx="727.97" cy="35.79" rx="16.15" ry="3.26" fill="#f0be30" opacity="0.5" filter="url(#b2)"/>
<ellipse cx="511.13" cy="16.09" rx="8.53" ry="3.91" fill="#d8a422" opacity="0.5" filter="url(#b2)"/>
<ellipse cx="511.96" cy="35.9" rx="11.3" ry="3.06" fill="#ecb82a" opacity="0.5" filter="url(#b2)"/>
<ellipse cx="753.57" cy="17.73" rx="13.82" ry="3.95" fill="#d9a624" opacity="0.5" filter="url(#b2)"/>
<rect x="405" y="20.7" width="400" height="11.6" fill="#6a2a10" filter="url(#b1)"/>
<rect x="405" y="21.8" width="400" height="9.4" fill="#130504" filter="url(#b05)"/>
</g>
<line x1="422" y1="42.5" x2="422" y2="49.6" stroke="#333" stroke-width="0.9"/>
<line x1="422" y1="42.7" x2="424.8" y2="42.7" stroke="#333" stroke-width="0.8"/>
<line x1="422" y1="46" x2="424.8" y2="46" stroke="#333" stroke-width="0.8"/>
<line x1="422" y1="49.6" x2="424.8" y2="49.6" stroke="#333" stroke-width="0.8"/>
<rect x="424.6" y="42.1" width="362.6" height="7.8" rx="3.9" fill="#1adbe6"/>
<circle cx="428.2" cy="46" r="3.15" fill="#f80000" stroke="#1adbe6" stroke-width="1"/>
<circle cx="431.19" cy="46" r="3.15" fill="#f80000" stroke="#1adbe6" stroke-width="1"/>
<circle cx="434.18" cy="46" r="3.15" fill="#f80000" stroke="#1adbe6" stroke-width="1"/>
<circle cx="437.18" cy="46" r="3.15" fill="#f80000" stroke="#1adbe6" stroke-width="1"/>
<circle cx="440.17" cy="46" r="3.15" fill="#f80000" stroke="#1adbe6" stroke-width="1"/>
<circle cx="443.16" cy="46" r="3.15" fill="#f80000" stroke="#1adbe6" stroke-width="1"/>
<circle cx="446.15" cy="46" r="3.15" fill="#f80000" stroke="#1adbe6" stroke-width="1"/>
<circle cx="449.14" cy="46" r="3.15" fill="#f80000" stroke="#1adbe6" stroke-width="1"/>
<circle cx="452.14" cy="46" r="3.15" fill="#f80000" stroke="#1adbe6" stroke-width="1"/>
<circle cx="455.13" cy="46" r="3.15" fill="#f80000" stroke="#1adbe6" stroke-width="1"/>
<circle cx="458.12" cy="46" r="3.15" fill="#f80000" stroke="#1adbe6" stroke-width="1"/>
<circle cx="461.11" cy="46" r="3.15" fill="#f80000" stroke="#1adbe6" stroke-width="1"/>
<circle cx="464.1" cy="46" r="3.15" fill="#f80000" stroke="#1adbe6" stroke-width="1"/>
<circle cx="467.1" cy="46" r="3.15" fill="#f80000" stroke="#1adbe6" stroke-width="1"/>
<circle cx="470.09" cy="46" r="3.15" fill="#f80000" stroke="#1adbe6" stroke-width="1"/>
<circle cx="473.08" cy="46" r="3.15" fill="#f80000" stroke="#1adbe6" stroke-width="1"/>
<circle cx="476.07" cy="46" r="3.15" fill="#f80000" stroke="#1adbe6" stroke-width="1"/>
<circle cx="479.06" cy="46" r="3.15" fill="#f80000" stroke="#1adbe6" stroke-width="1"/>
<circle cx="482.06" cy="46" r="3.15" fill="#f80000" stroke="#1adbe6" stroke-width="1"/>
<circle cx="485.05" cy="46" r="3.15" fill="#f80000" stroke="#1adbe6" stroke-width="1"/>
<circle cx="488.04" cy="46" r="3.15" fill="#f80000" stroke="#1adbe6" stroke-width="1"/>
<circle cx="491.03" cy="46" r="3.15" fill="#f80000" stroke="#1adbe6" stroke-width="1"/>
<circle cx="494.02" cy="46" r="3.15" fill="#f80000" stroke="#1adbe6" stroke-width="1"/>
<circle cx="497.02" cy="46" r="3.15" fill="#f80000" stroke="#1adbe6" stroke-width="1"/>
<circle cx="500.01" cy="46" r="3.15" fill="#f80000" stroke="#1adbe6" stroke-width="1"/>
<circle cx="503" cy="46" r="3.15" fill="#f80000" stroke="#1adbe6" stroke-width="1"/>
<circle cx="505.99" cy="46" r="3.15" fill="#f80000" stroke="#1adbe6" stroke-width="1"/>
<circle cx="508.98" cy="46" r="3.15" fill="#f80000" stroke="#1adbe6" stroke-width="1"/>
<circle cx="511.98" cy="46" r="3.15" fill="#f80000" stroke="#1adbe6" stroke-width="1"/>
<circle cx="514.97" cy="46" r="3.15" fill="#f80000" stroke="#1adbe6" stroke-width="1"/>
<circle cx="517.96" cy="46" r="3.15" fill="#f80000" stroke="#1adbe6" stroke-width="1"/>
<circle cx="520.95" cy="46" r="3.15" fill="#f80000" stroke="#1adbe6" stroke-width="1"/>
<circle cx="523.94" cy="46" r="3.15" fill="#f80000" stroke="#1adbe6" stroke-width="1"/>
<circle cx="526.94" cy="46" r="3.15" fill="#f80000" stroke="#1adbe6" stroke-width="1"/>
<circle cx="529.93" cy="46" r="3.15" fill="#f80000" stroke="#1adbe6" stroke-width="1"/>
<circle cx="532.92" cy="46" r="3.15" fill="#f80000" stroke="#1adbe6" stroke-width="1"/>
<circle cx="535.91" cy="46" r="3.15" fill="#f80000" stroke="#1adbe6" stroke-width="1"/>
<circle cx="538.9" cy="46" r="3.15" fill="#f80000" stroke="#1adbe6" stroke-width="1"/>
<circle cx="541.9" cy="46" r="3.15" fill="#f80000" stroke="#1adbe6" stroke-width="1"/>
<circle cx="544.89" cy="46" r="3.15" fill="#f80000" stroke="#1adbe6" stroke-width="1"/>
<circle cx="547.88" cy="46" r="3.15" fill="#f80000" stroke="#1adbe6" stroke-width="1"/>
<circle cx="550.87" cy="46" r="3.15" fill="#f80000" stroke="#1adbe6" stroke-width="1"/>
<circle cx="553.86" cy="46" r="3.15" fill="#f80000" stroke="#1adbe6" stroke-width="1"/>
<circle cx="556.86" cy="46" r="3.15" fill="#f80000" stroke="#1adbe6" stroke-width="1"/>
<circle cx="559.85" cy="46" r="3.15" fill="#f80000" stroke="#1adbe6" stroke-width="1"/>
<circle cx="562.84" cy="46" r="3.15" fill="#f80000" stroke="#1adbe6" stroke-width="1"/>
<circle cx="565.83" cy="46" r="3.15" fill="#f80000" stroke="#1adbe6" stroke-width="1"/>
<circle cx="568.82" cy="46" r="3.15" fill="#f80000" stroke="#1adbe6" stroke-width="1"/>
<circle cx="571.82" cy="46" r="3.15" fill="#f80000" stroke="#1adbe6" stroke-width="1"/>
<circle cx="574.81" cy="46" r="3.15" fill="#f80000" stroke="#1adbe6" stroke-width="1"/>
<circle cx="577.8" cy="46" r="3.15" fill="#f80000" stroke="#1adbe6" stroke-width="1"/>
<circle cx="580.79" cy="46" r="3.15" fill="#f80000" stroke="#1adbe6" stroke-width="1"/>
<circle cx="583.78" cy="46" r="3.15" fill="#f80000" stroke="#1adbe6" stroke-width="1"/>
<circle cx="586.78" cy="46" r="3.15" fill="#f80000" stroke="#1adbe6" stroke-width="1"/>
<circle cx="589.77" cy="46" r="3.15" fill="#f80000" stroke="#1adbe6" stroke-width="1"/>
<circle cx="592.76" cy="46" r="3.15" fill="#f80000" stroke="#1adbe6" stroke-width="1"/>
<circle cx="595.75" cy="46" r="3.15" fill="#f80000" stroke="#1adbe6" stroke-width="1"/>
<circle cx="598.74" cy="46" r="3.15" fill="#f80000" stroke="#1adbe6" stroke-width="1"/>
<circle cx="601.74" cy="46" r="3.15" fill="#f80000" stroke="#1adbe6" stroke-width="1"/>
<circle cx="604.73" cy="46" r="3.15" fill="#f80000" stroke="#1adbe6" stroke-width="1"/>
<circle cx="607.72" cy="46" r="3.15" fill="#f80000" stroke="#1adbe6" stroke-width="1"/>
<circle cx="610.71" cy="46" r="3.15" fill="#f80000" stroke="#1adbe6" stroke-width="1"/>
<circle cx="613.7" cy="46" r="3.15" fill="#f80000" stroke="#1adbe6" stroke-width="1"/>
<circle cx="616.7" cy="46" r="3.15" fill="#f80000" stroke="#1adbe6" stroke-width="1"/>
<circle cx="619.69" cy="46" r="3.15" fill="#f80000" stroke="#1adbe6" stroke-width="1"/>
<circle cx="622.68" cy="46" r="3.15" fill="#f80000" stroke="#1adbe6" stroke-width="1"/>
<circle cx="625.67" cy="46" r="3.15" fill="#f80000" stroke="#1adbe6" stroke-width="1"/>
<circle cx="628.66" cy="46" r="3.15" fill="#f80000" stroke="#1adbe6" stroke-width="1"/>
<circle cx="631.66" cy="46" r="3.15" fill="#f80000" stroke="#1adbe6" stroke-width="1"/>
<circle cx="634.65" cy="46" r="3.15" fill="#f80000" stroke="#1adbe6" stroke-width="1"/>
<circle cx="637.64" cy="46" r="3.15" fill="#f80000" stroke="#1adbe6" stroke-width="1"/>
<circle cx="640.63" cy="46" r="3.15" fill="#f80000" stroke="#1adbe6" stroke-width="1"/>
<circle cx="643.62" cy="46" r="3.15" fill="#f80000" stroke="#1adbe6" stroke-width="1"/>
<circle cx="646.62" cy="46" r="3.15" fill="#f80000" stroke="#1adbe6" stroke-width="1"/>
<circle cx="649.61" cy="46" r="3.15" fill="#f80000" stroke="#1adbe6" stroke-width="1"/>
<circle cx="652.6" cy="46" r="3.15" fill="#f80000" stroke="#1adbe6" stroke-width="1"/>
<circle cx="655.59" cy="46" r="3.15" fill="#f80000" stroke="#1adbe6" stroke-width="1"/>
<circle cx="658.58" cy="46" r="3.15" fill="#f80000" stroke="#1adbe6" stroke-width="1"/>
<circle cx="661.58" cy="46" r="3.15" fill="#f80000" stroke="#1adbe6" stroke-width="1"/>
<circle cx="664.57" cy="46" r="3.15" fill="#f80000" stroke="#1adbe6" stroke-width="1"/>
<circle cx="667.56" cy="46" r="3.15" fill="#f80000" stroke="#1adbe6" stroke-width="1"/>
<circle cx="670.55" cy="46" r="3.15" fill="#f80000" stroke="#1adbe6" stroke-width="1"/>
<circle cx="673.54" cy="46" r="3.15" fill="#f80000" stroke="#1adbe6" stroke-width="1"/>
<circle cx="676.54" cy="46" r="3.15" fill="#f80000" stroke="#1adbe6" stroke-width="1"/>
<circle cx="679.53" cy="46" r="3.15" fill="#f80000" stroke="#1adbe6" stroke-width="1"/>
<circle cx="682.52" cy="46" r="3.15" fill="#f80000" stroke="#1adbe6" stroke-width="1"/>
<circle cx="685.51" cy="46" r="3.15" fill="#f80000" stroke="#1adbe6" stroke-width="1"/>
<circle cx="688.5" cy="46" r="3.15" fill="#f80000" stroke="#1adbe6" stroke-width="1"/>
<circle cx="691.5" cy="46" r="3.15" fill="#f80000" stroke="#1adbe6" stroke-width="1"/>
<circle cx="694.49" cy="46" r="3.15" fill="#f80000" stroke="#1adbe6" stroke-width="1"/>
<circle cx="697.48" cy="46" r="3.15" fill="#f80000" stroke="#1adbe6" stroke-width="1"/>
<circle cx="700.47" cy="46" r="3.15" fill="#f80000" stroke="#1adbe6" stroke-width="1"/>
<circle cx="703.46" cy="46" r="3.15" fill="#f80000" stroke="#1adbe6" stroke-width="1"/>
<circle cx="706.46" cy="46" r="3.15" fill="#f80000" stroke="#1adbe6" stroke-width="1"/>
<circle cx="709.45" cy="46" r="3.15" fill="#f80000" stroke="#1adbe6" stroke-width="1"/>
<circle cx="712.44" cy="46" r="3.15" fill="#f80000" stroke="#1adbe6" stroke-width="1"/>
<circle cx="715.43" cy="46" r="3.15" fill="#f80000" stroke="#1adbe6" stroke-width="1"/>
<circle cx="718.42" cy="46" r="3.15" fill="#f80000" stroke="#1adbe6" stroke-width="1"/>
<circle cx="721.42" cy="46" r="3.15" fill="#f80000" stroke="#1adbe6" stroke-width="1"/>
<circle cx="724.41" cy="46" r="3.15" fill="#f80000" stroke="#1adbe6" stroke-width="1"/>
<circle cx="727.4" cy="46" r="3.15" fill="#f80000" stroke="#1adbe6" stroke-width="1"/>
<circle cx="730.39" cy="46" r="3.15" fill="#f80000" stroke="#1adbe6" stroke-width="1"/>
<circle cx="733.38" cy="46" r="3.15" fill="#f80000" stroke="#1adbe6" stroke-width="1"/>
<circle cx="736.38" cy="46" r="3.15" fill="#f80000" stroke="#1adbe6" stroke-width="1"/>
<circle cx="739.37" cy="46" r="3.15" fill="#f80000" stroke="#1adbe6" stroke-width="1"/>
<circle cx="742.36" cy="46" r="3.15" fill="#f80000" stroke="#1adbe6" stroke-width="1"/>
<circle cx="745.35" cy="46" r="3.15" fill="#f80000" stroke="#1adbe6" stroke-width="1"/>
<circle cx="748.34" cy="46" r="3.15" fill="#f80000" stroke="#1adbe6" stroke-width="1"/>
<circle cx="751.34" cy="46" r="3.15" fill="#f80000" stroke="#1adbe6" stroke-width="1"/>
<circle cx="754.33" cy="46" r="3.15" fill="#f80000" stroke="#1adbe6" stroke-width="1"/>
<circle cx="757.32" cy="46" r="3.15" fill="#f80000" stroke="#1adbe6" stroke-width="1"/>
<circle cx="760.31" cy="46" r="3.15" fill="#f80000" stroke="#1adbe6" stroke-width="1"/>
<circle cx="763.3" cy="46" r="3.15" fill="#f80000" stroke="#1adbe6" stroke-width="1"/>
<circle cx="766.3" cy="46" r="3.15" fill="#f80000" stroke="#1adbe6" stroke-width="1"/>
<circle cx="769.29" cy="46" r="3.15" fill="#f80000" stroke="#1adbe6" stroke-width="1"/>
<circle cx="772.28" cy="46" r="3.15" fill="#f80000" stroke="#1adbe6" stroke-width="1"/>
<circle cx="775.27" cy="46" r="3.15" fill="#f80000" stroke="#1adbe6" stroke-width="1"/>
<circle cx="778.26" cy="46" r="3.15" fill="#f80000" stroke="#1adbe6" stroke-width="1"/>
<circle cx="781.26" cy="46" r="3.15" fill="#f80000" stroke="#1adbe6" stroke-width="1"/>
<circle cx="784.25" cy="46" r="3.15" fill="#f80000" stroke="#1adbe6" stroke-width="1"/>
<text x="428" y="58.8" font-size="8.6" font-weight="normal" text-anchor="middle" fill="#1c1c1c">0</text>
<text x="487.8" y="58.8" font-size="8.6" font-weight="normal" text-anchor="middle" fill="#1c1c1c">1</text>
<text x="547.6" y="58.8" font-size="8.6" font-weight="normal" text-anchor="middle" fill="#1c1c1c">2</text>
<text x="607.4" y="58.8" font-size="8.6" font-weight="normal" text-anchor="middle" fill="#1c1c1c">3</text>
<text x="667.2" y="58.8" font-size="8.6" font-weight="normal" text-anchor="middle" fill="#1c1c1c">4</text>
<text x="727" y="58.8" font-size="8.6" font-weight="normal" text-anchor="middle" fill="#1c1c1c">5</text>
<text x="786.8" y="58.8" font-size="8.6" font-weight="normal" text-anchor="middle" fill="#1c1c1c">6</text>
<text x="779" y="70.3" font-size="8.8" font-weight="normal" text-anchor="middle" fill="#1c1c1c">(mm)</text>
<path d="M427.8 255.1 L428.1 134.49 L428.78 160.73 L429.46 182.49 L430.13 200.88 L430.81 216.74 L431.11 101.34 L431.79 134.8 L432.47 162.54 L433.14 185.98 L433.82 206.2 L434.12 92.23 L434.8 127.67 L435.48 157.06 L436.15 181.89 L436.83 203.3 L437.13 89.73 L437.81 125.72 L438.49 155.55 L439.16 180.76 L439.84 202.5 L440.14 89.04 L440.82 125.18 L441.5 155.13 L442.17 180.45 L442.85 202.28 L443.15 88.85 L443.83 125.03 L444.51 155.02 L445.18 180.37 L445.86 202.22 L446.16 88.8 L446.84 124.99 L447.52 154.99 L448.19 180.34 L448.87 202.21 L449.17 88.79 L449.85 124.98 L450.53 154.98 L451.2 180.34 L451.88 202.2 L452.18 88.78 L452.86 124.97 L453.54 154.98 L454.21 180.33 L454.89 202.2 L455.19 88.78 L455.87 124.97 L456.55 154.98 L457.22 180.33 L457.9 202.2 L458.2 88.78 L458.88 124.97 L459.56 154.98 L460.23 180.33 L460.91 202.2 L461.21 88.78 L461.89 124.97 L462.57 154.98 L463.24 180.33 L463.92 202.2 L464.22 88.78 L464.9 124.97 L465.58 154.98 L466.25 180.33 L466.93 202.2 L467.23 88.78 L467.91 124.97 L468.59 154.98 L469.26 180.33 L469.94 202.2 L470.24 88.78 L470.92 124.97 L471.6 154.98 L472.27 180.33 L472.95 202.2 L473.25 88.78 L473.93 124.97 L474.61 154.98 L475.28 180.33 L475.96 202.2 L476.26 88.78 L476.94 124.97 L477.62 154.98 L478.29 180.33 L478.97 202.2 L479.27 88.78 L479.95 124.97 L480.63 154.98 L481.3 180.33 L481.98 202.2 L482.28 88.78 L482.96 124.97 L483.64 154.98 L484.31 180.33 L484.99 202.2 L485.29 88.78 L485.97 124.97 L486.65 154.98 L487.32 180.33 L488 202.2 L488.3 88.78 L488.98 124.97 L489.66 154.98 L490.33 180.33 L491.01 202.2 L491.31 88.78 L491.99 124.97 L492.67 154.98 L493.34 180.33 L494.02 202.2 L494.32 88.78 L495 124.97 L495.68 154.98 L496.35 180.33 L497.03 202.2 L497.33 88.78 L498.01 124.97 L498.69 154.98 L499.36 180.33 L500.04 202.2 L500.34 88.78 L501.02 124.97 L501.7 154.98 L502.37 180.33 L503.05 202.2 L503.35 88.78 L504.03 124.97 L504.71 154.98 L505.38 180.33 L506.06 202.2 L506.36 88.78 L507.04 124.97 L507.72 154.98 L508.39 180.33 L509.07 202.2 L509.37 88.78 L510.05 124.97 L510.73 154.98 L511.4 180.33 L512.08 202.2 L512.38 88.78 L513.06 124.97 L513.74 154.98 L514.41 180.33 L515.09 202.2 L515.39 88.78 L516.07 124.97 L516.75 154.98 L517.42 180.33 L518.1 202.2 L518.4 88.78 L519.08 124.97 L519.76 154.98 L520.43 180.33 L521.11 202.2 L521.41 88.78 L522.09 124.97 L522.77 154.98 L523.44 180.33 L524.12 202.2 L524.42 88.78 L525.1 124.97 L525.78 154.98 L526.45 180.33 L527.13 202.2 L527.43 88.78 L528.11 124.97 L528.79 154.98 L529.46 180.33 L530.14 202.2 L530.44 88.78 L531.12 124.97 L531.8 154.98 L532.47 180.33 L533.15 202.2 L533.45 88.78 L534.13 124.97 L534.81 154.98 L535.48 180.33 L536.16 202.2 L536.46 88.78 L537.14 124.97 L537.82 154.98 L538.49 180.33 L539.17 202.2 L539.47 88.78 L540.15 124.97 L540.83 154.98 L541.5 180.33 L542.18 202.2 L542.48 88.78 L543.16 124.97 L543.84 154.98 L544.51 180.33 L545.19 202.2 L545.49 88.78 L546.17 124.97 L546.85 154.98 L547.52 180.33 L548.2 202.2 L548.5 88.78 L549.18 124.97 L549.86 154.98 L550.53 180.33 L551.21 202.2 L551.51 88.78 L552.19 124.97 L552.87 154.98 L553.54 180.33 L554.22 202.2 L554.52 88.78 L555.2 124.97 L555.88 154.98 L556.55 180.33 L557.23 202.2 L557.53 88.78 L558.21 124.97 L558.89 154.98 L559.56 180.33 L560.24 202.2 L560.54 88.78 L561.22 124.97 L561.9 154.98 L562.57 180.33 L563.25 202.2 L563.55 88.78 L564.23 124.97 L564.91 154.98 L565.58 180.33 L566.26 202.2 L566.56 88.78 L567.24 124.97 L567.92 154.98 L568.59 180.33 L569.27 202.2 L569.57 88.78 L570.25 124.97 L570.93 154.98 L571.6 180.33 L572.28 202.2 L572.58 88.78 L573.26 124.97 L573.94 154.98 L574.61 180.33 L575.29 202.2 L575.59 88.78 L576.27 124.97 L576.95 154.98 L577.62 180.33 L578.3 202.2 L578.6 88.78 L579.28 124.97 L579.96 154.98 L580.63 180.33 L581.31 202.2 L581.61 88.78 L582.29 124.97 L582.97 154.98 L583.64 180.33 L584.32 202.2 L584.62 88.78 L585.3 124.97 L585.98 154.98 L586.65 180.33 L587.33 202.2 L587.63 88.78 L588.31 124.97 L588.99 154.98 L589.66 180.33 L590.34 202.2 L590.64 88.78 L591.32 124.97 L592 154.98 L592.67 180.33 L593.35 202.2 L593.65 88.78 L594.33 124.97 L595.01 154.98 L595.68 180.33 L596.36 202.2 L596.66 88.78 L597.34 124.97 L598.02 154.98 L598.69 180.33 L599.37 202.2 L599.67 88.78 L600.35 124.97 L601.03 154.98 L601.7 180.33 L602.38 202.2 L602.68 88.78 L603.36 124.97 L604.04 154.98 L604.71 180.33 L605.39 202.2 L605.69 88.78 L606.37 124.97 L607.05 154.98 L607.72 180.33 L608.4 202.2 L608.7 88.78 L609.38 124.97 L610.06 154.98 L610.73 180.33 L611.41 202.2 L611.71 88.78 L612.39 124.97 L613.07 154.98 L613.74 180.33 L614.42 202.2 L614.72 88.78 L615.4 124.97 L616.08 154.98 L616.75 180.33 L617.43 202.2 L617.73 88.78 L618.41 124.97 L619.09 154.98 L619.76 180.33 L620.44 202.2 L620.74 88.78 L621.42 124.97 L622.1 154.98 L622.77 180.33 L623.45 202.2 L623.75 88.78 L624.43 124.97 L625.11 154.98 L625.78 180.33 L626.46 202.2 L626.76 88.78 L627.44 124.97 L628.12 154.98 L628.79 180.33 L629.47 202.2 L629.77 88.78 L630.45 124.97 L631.13 154.98 L631.8 180.33 L632.48 202.2 L632.78 88.78 L633.46 124.97 L634.14 154.98 L634.81 180.33 L635.49 202.2 L635.79 88.78 L636.47 124.97 L637.15 154.98 L637.82 180.33 L638.5 202.2 L638.8 88.78 L639.48 124.97 L640.16 154.98 L640.83 180.33 L641.51 202.2 L641.81 88.78 L642.49 124.97 L643.17 154.98 L643.84 180.33 L644.52 202.2 L644.82 88.78 L645.5 124.97 L646.18 154.98 L646.85 180.33 L647.53 202.2 L647.83 88.78 L648.51 124.97 L649.19 154.98 L649.86 180.33 L650.54 202.2 L650.84 88.78 L651.52 124.97 L652.2 154.98 L652.87 180.33 L653.55 202.2 L653.85 88.78 L654.53 124.97 L655.21 154.98 L655.88 180.33 L656.56 202.2 L656.86 88.78 L657.54 124.97 L658.22 154.98 L658.89 180.33 L659.57 202.2 L659.87 88.78 L660.55 124.97 L661.23 154.98 L661.9 180.33 L662.58 202.2 L662.88 88.78 L663.56 124.97 L664.24 154.98 L664.91 180.33 L665.59 202.2 L665.89 88.78 L666.57 124.97 L667.25 154.98 L667.92 180.33 L668.6 202.2 L668.9 88.78 L669.58 124.97 L670.26 154.98 L670.93 180.33 L671.61 202.2 L671.91 88.78 L672.59 124.97 L673.27 154.98 L673.94 180.33 L674.62 202.2 L674.92 88.78 L675.6 124.97 L676.28 154.98 L676.95 180.33 L677.63 202.2 L677.93 88.78 L678.61 124.97 L679.29 154.98 L679.96 180.33 L680.64 202.2 L680.94 88.78 L681.62 124.97 L682.3 154.98 L682.97 180.33 L683.65 202.2 L683.95 88.78 L684.63 124.97 L685.31 154.98 L685.98 180.33 L686.66 202.2 L686.96 88.78 L687.64 124.97 L688.32 154.98 L688.99 180.33 L689.67 202.2 L689.97 88.78 L690.65 124.97 L691.33 154.98 L692 180.33 L692.68 202.2 L692.98 88.78 L693.66 124.97 L694.34 154.98 L695.01 180.33 L695.69 202.2 L695.99 88.78 L696.67 124.97 L697.35 154.98 L698.02 180.33 L698.7 202.2 L699 88.78 L699.68 124.97 L700.36 154.98 L701.03 180.33 L701.71 202.2 L702.01 88.78 L702.69 124.97 L703.37 154.98 L704.04 180.33 L704.72 202.2 L705.02 88.78 L705.7 124.97 L706.38 154.98 L707.05 180.33 L707.73 202.2 L708.03 88.78 L708.71 124.97 L709.39 154.98 L710.06 180.33 L710.74 202.2 L711.04 88.78 L711.72 124.97 L712.4 154.98 L713.07 180.33 L713.75 202.2 L714.05 88.78 L714.73 124.97 L715.41 154.98 L716.08 180.33 L716.76 202.2 L717.06 88.78 L717.74 124.97 L718.42 154.98 L719.09 180.33 L719.77 202.2 L720.07 88.78 L720.75 124.97 L721.43 154.98 L722.1 180.33 L722.78 202.2 L723.08 88.78 L723.76 124.97 L724.44 154.98 L725.11 180.33 L725.79 202.2 L726.09 88.78 L726.77 124.97 L727.45 154.98 L728.12 180.33 L728.8 202.2 L729.1 88.78 L729.78 124.97 L730.46 154.98 L731.13 180.33 L731.81 202.2 L732.11 88.78 L732.79 124.97 L733.47 154.98 L734.14 180.33 L734.82 202.2 L735.12 88.78 L735.8 124.97 L736.48 154.98 L737.15 180.33 L737.83 202.2 L738.13 88.78 L738.81 124.97 L739.49 154.98 L740.16 180.33 L740.84 202.2 L741.14 88.78 L741.82 124.97 L742.5 154.98 L743.17 180.33 L743.85 202.2 L744.15 88.78 L744.83 124.97 L745.51 154.98 L746.18 180.33 L746.86 202.2 L747.16 88.78 L747.84 124.97 L748.52 154.98 L749.19 180.33 L749.87 202.2 L750.17 88.78 L750.85 124.97 L751.53 154.98 L752.2 180.33 L752.88 202.2 L753.18 88.78 L753.86 124.97 L754.54 154.98 L755.21 180.33 L755.89 202.2 L756.19 88.78 L756.87 124.97 L757.55 154.98 L758.22 180.33 L758.9 202.2 L759.2 88.78 L759.88 124.97 L760.56 154.98 L761.23 180.33 L761.91 202.2 L762.21 88.78 L762.89 124.97 L763.57 154.98 L764.24 180.33 L764.92 202.2 L765.22 88.78 L765.9 124.97 L766.58 154.98 L767.25 180.33 L767.93 202.2 L768.23 88.78 L768.91 124.97 L769.59 154.98 L770.26 180.33 L770.94 202.2 L771.24 88.78 L771.92 124.97 L772.6 154.98 L773.27 180.33 L773.95 202.2 L774.25 88.78 L774.93 124.97 L775.61 154.98 L776.28 180.33 L776.96 202.2 L777.26 88.78 L777.94 124.97 L778.62 154.98 L779.29 180.33 L779.97 202.2 L780.27 88.78 L780.95 124.97 L781.63 154.98 L782.3 180.33 L782.98 202.2 L783.28 88.78 L783.96 124.97 L784.64 154.98 L785.31 180.33 L785.99 202.2 L786.29 88.78 L786.97 124.97 L787.65 154.98 L788.32 180.33 L789 202.2" stroke="#0072BD" stroke-width="1.35" fill="none" stroke-linejoin="round" stroke-miterlimit="2"/>
<line x1="424.5" y1="86.3" x2="789.5" y2="86.3" stroke="#b0b0b0" stroke-width="1.3"/>
<line x1="789.5" y1="86.3" x2="789.5" y2="259.3" stroke="#555" stroke-width="0.9"/>
<line x1="424.5" y1="85.65" x2="424.5" y2="259.75" stroke="#555" stroke-width="0.8"/>
<line x1="424.1" y1="259.3" x2="789.95" y2="259.3" stroke="#555" stroke-width="0.9"/>
<line x1="427.8" y1="259.3" x2="427.8" y2="256.3" stroke="#3a3a3a" stroke-width="0.8"/>
<line x1="427.8" y1="86.3" x2="427.8" y2="89.3" stroke="#3a3a3a" stroke-width="0.8"/>
<text x="427.8" y="269.7" font-size="8.6" font-weight="normal" text-anchor="middle" fill="#1c1c1c">0</text>
<line x1="488" y1="259.3" x2="488" y2="256.3" stroke="#3a3a3a" stroke-width="0.8"/>
<line x1="488" y1="86.3" x2="488" y2="89.3" stroke="#3a3a3a" stroke-width="0.8"/>
<text x="488" y="269.7" font-size="8.6" font-weight="normal" text-anchor="middle" fill="#1c1c1c">1</text>
<line x1="548.2" y1="259.3" x2="548.2" y2="256.3" stroke="#3a3a3a" stroke-width="0.8"/>
<line x1="548.2" y1="86.3" x2="548.2" y2="89.3" stroke="#3a3a3a" stroke-width="0.8"/>
<text x="548.2" y="269.7" font-size="8.6" font-weight="normal" text-anchor="middle" fill="#1c1c1c">2</text>
<line x1="608.4" y1="259.3" x2="608.4" y2="256.3" stroke="#3a3a3a" stroke-width="0.8"/>
<line x1="608.4" y1="86.3" x2="608.4" y2="89.3" stroke="#3a3a3a" stroke-width="0.8"/>
<text x="608.4" y="269.7" font-size="8.6" font-weight="normal" text-anchor="middle" fill="#1c1c1c">3</text>
<line x1="668.6" y1="259.3" x2="668.6" y2="256.3" stroke="#3a3a3a" stroke-width="0.8"/>
<line x1="668.6" y1="86.3" x2="668.6" y2="89.3" stroke="#3a3a3a" stroke-width="0.8"/>
<text x="668.6" y="269.7" font-size="8.6" font-weight="normal" text-anchor="middle" fill="#1c1c1c">4</text>
<line x1="728.8" y1="259.3" x2="728.8" y2="256.3" stroke="#3a3a3a" stroke-width="0.8"/>
<line x1="728.8" y1="86.3" x2="728.8" y2="89.3" stroke="#3a3a3a" stroke-width="0.8"/>
<text x="728.8" y="269.7" font-size="8.6" font-weight="normal" text-anchor="middle" fill="#1c1c1c">5</text>
<line x1="789" y1="259.3" x2="789" y2="256.3" stroke="#3a3a3a" stroke-width="0.8"/>
<line x1="789" y1="86.3" x2="789" y2="89.3" stroke="#3a3a3a" stroke-width="0.8"/>
<text x="789" y="269.7" font-size="8.6" font-weight="normal" text-anchor="middle" fill="#1c1c1c">6</text>
<line x1="424.5" y1="255.1" x2="427.5" y2="255.1" stroke="#3a3a3a" stroke-width="0.8"/>
<line x1="789.5" y1="255.1" x2="786.5" y2="255.1" stroke="#3a3a3a" stroke-width="0.8"/>
<text x="422.5" y="257.9" font-size="8.6" font-weight="normal" text-anchor="end" fill="#1c1c1c">0</text>
<line x1="424.5" y1="233.94" x2="427.5" y2="233.94" stroke="#3a3a3a" stroke-width="0.8"/>
<line x1="789.5" y1="233.94" x2="786.5" y2="233.94" stroke="#3a3a3a" stroke-width="0.8"/>
<text x="422.5" y="236.74" font-size="8.6" font-weight="normal" text-anchor="end" fill="#1c1c1c">0.5</text>
<line x1="424.5" y1="212.78" x2="427.5" y2="212.78" stroke="#3a3a3a" stroke-width="0.8"/>
<line x1="789.5" y1="212.78" x2="786.5" y2="212.78" stroke="#3a3a3a" stroke-width="0.8"/>
<text x="422.5" y="215.58" font-size="8.6" font-weight="normal" text-anchor="end" fill="#1c1c1c">1</text>
<line x1="424.5" y1="191.62" x2="427.5" y2="191.62" stroke="#3a3a3a" stroke-width="0.8"/>
<line x1="789.5" y1="191.62" x2="786.5" y2="191.62" stroke="#3a3a3a" stroke-width="0.8"/>
<text x="422.5" y="194.42" font-size="8.6" font-weight="normal" text-anchor="end" fill="#1c1c1c">1.5</text>
<line x1="424.5" y1="170.46" x2="427.5" y2="170.46" stroke="#3a3a3a" stroke-width="0.8"/>
<line x1="789.5" y1="170.46" x2="786.5" y2="170.46" stroke="#3a3a3a" stroke-width="0.8"/>
<text x="422.5" y="173.26" font-size="8.6" font-weight="normal" text-anchor="end" fill="#1c1c1c">2</text>
<line x1="424.5" y1="149.3" x2="427.5" y2="149.3" stroke="#3a3a3a" stroke-width="0.8"/>
<line x1="789.5" y1="149.3" x2="786.5" y2="149.3" stroke="#3a3a3a" stroke-width="0.8"/>
<text x="422.5" y="152.1" font-size="8.6" font-weight="normal" text-anchor="end" fill="#1c1c1c">2.5</text>
<line x1="424.5" y1="128.14" x2="427.5" y2="128.14" stroke="#3a3a3a" stroke-width="0.8"/>
<line x1="789.5" y1="128.14" x2="786.5" y2="128.14" stroke="#3a3a3a" stroke-width="0.8"/>
<text x="422.5" y="130.94" font-size="8.6" font-weight="normal" text-anchor="end" fill="#1c1c1c">3</text>
<line x1="424.5" y1="106.98" x2="427.5" y2="106.98" stroke="#3a3a3a" stroke-width="0.8"/>
<line x1="789.5" y1="106.98" x2="786.5" y2="106.98" stroke="#3a3a3a" stroke-width="0.8"/>
<text x="422.5" y="109.78" font-size="8.6" font-weight="normal" text-anchor="end" fill="#1c1c1c">3.5</text>
<line x1="424.5" y1="85.82" x2="427.5" y2="85.82" stroke="#3a3a3a" stroke-width="0.8"/>
<line x1="789.5" y1="85.82" x2="786.5" y2="85.82" stroke="#3a3a3a" stroke-width="0.8"/>
<text x="422.5" y="88.62" font-size="8.6" font-weight="normal" text-anchor="end" fill="#1c1c1c">4</text>
<text x="611" y="280" font-size="9.3" font-weight="bold" text-anchor="middle" fill="#0a0a0a" stroke="#0a0a0a" stroke-width="0.28">Time (s)</text>
<text x="771.7" y="281" font-size="8.8" font-weight="normal" text-anchor="start" fill="#1c1c1c">×10</text>
<text x="786.4" y="277.7" font-size="8.6" font-weight="normal" text-anchor="start" fill="#1c1c1c">-3</text>
<text x="409.2" y="159.7" font-size="9.6" font-weight="bold" text-anchor="middle" fill="#0a0a0a" transform="rotate(-90 409.2 159.7)" stroke="#0a0a0a" stroke-width="0.28">Power laser (W)</text>
<rect x="426" y="86.4" width="62.1" height="170.7" fill="none" stroke="#172a78" stroke-width="1.7"/>
<line x1="425.3" y1="258" x2="457.8" y2="337.4" stroke="#172a78" stroke-width="2.0" stroke-dasharray="5.6 3"/>
<line x1="488.5" y1="257.6" x2="774.6" y2="336.6" stroke="#172a78" stroke-width="2.0" stroke-dasharray="5.6 3"/>
<path d="M502.97 494.88 L502.97 447.25 L504.48 343.44 L505.84 357.12 L507.19 369.76 L508.55 381.47 L509.91 392.35 L511.27 402.49 L512.62 411.97 L513.98 420.86 L515.34 429.23 L516.7 437.13 L518.06 444.61 L518.66 444.61 L518.66 494.88 Z" stroke="none" stroke-width="1" fill="#00AEEF" stroke-linejoin="round"/>
<path d="M472.8 491.8 L474.31 381.93 L475.67 392.06 L477.02 401.42 L478.38 410.09 L479.74 418.15 L481.1 425.66 L482.45 432.68 L483.81 439.27 L485.17 445.46 L486.53 451.31 L487.88 456.85 L489.39 351.74 L490.75 364.66 L492.11 376.59 L493.47 387.64 L494.82 397.91 L496.18 407.48 L497.54 416.43 L498.9 424.83 L500.25 432.73 L501.61 440.19 L502.97 447.25 L504.48 343.44 L505.84 357.12 L507.19 369.76 L508.55 381.47 L509.91 392.35 L511.27 402.49 L512.62 411.97 L513.98 420.86 L515.34 429.23 L516.7 437.13 L518.06 444.61 L519.56 341.16 L520.92 355.05 L522.28 367.89 L523.64 379.77 L524.99 390.82 L526.35 401.12 L527.71 410.74 L529.07 419.77 L530.42 428.27 L531.78 436.29 L533.14 443.89 L534.65 340.54 L536.01 354.49 L537.36 367.37 L538.72 379.31 L540.08 390.4 L541.44 400.74 L542.79 410.41 L544.15 419.47 L545.51 428 L546.87 436.06 L548.23 443.69 L549.73 340.36 L551.09 354.33 L552.45 367.23 L553.81 379.18 L555.16 390.29 L556.52 400.64 L557.88 410.31 L559.24 419.39 L560.59 427.93 L561.95 435.99 L563.31 443.63 L564.82 340.32 L566.18 354.29 L567.53 367.19 L568.89 379.15 L570.25 390.25 L571.61 400.61 L572.96 410.29 L574.32 419.37 L575.68 427.91 L577.04 435.98 L578.39 443.62 L579.9 340.3 L581.26 354.27 L582.62 367.18 L583.98 379.14 L585.33 390.25 L586.69 400.6 L588.05 410.28 L589.41 419.36 L590.76 427.91 L592.12 435.97 L593.48 443.61 L594.99 340.3 L596.35 354.27 L597.7 367.18 L599.06 379.13 L600.42 390.24 L601.78 400.6 L603.13 410.28 L604.49 419.36 L605.85 427.9 L607.21 435.97 L608.57 443.61 L610.07 340.3 L611.43 354.27 L612.79 367.18 L614.15 379.13 L615.5 390.24 L616.86 400.6 L618.22 410.28 L619.58 419.36 L620.93 427.9 L622.29 435.97 L623.65 443.61 L625.16 340.3 L626.52 354.27 L627.87 367.18 L629.23 379.13 L630.59 390.24 L631.95 400.6 L633.3 410.28 L634.66 419.36 L636.02 427.9 L637.38 435.97 L638.74 443.61 L640.24 340.3 L641.6 354.27 L642.96 367.18 L644.32 379.13 L645.67 390.24 L647.03 400.6 L648.39 410.28 L649.75 419.36 L651.1 427.9 L652.46 435.97 L653.82 443.61 L655.33 340.3 L656.69 354.27 L658.04 367.18 L659.4 379.13 L660.76 390.24 L662.12 400.6 L663.47 410.28 L664.83 419.36 L666.19 427.9 L667.55 435.97 L668.9 443.61 L670.41 340.3 L671.77 354.27 L673.13 367.18 L674.49 379.13 L675.84 390.24 L677.2 400.6 L678.56 410.28 L679.92 419.36 L681.27 427.9 L682.63 435.97 L683.99 443.61 L685.5 340.3 L686.86 354.27 L688.21 367.18 L689.57 379.13 L690.93 390.24 L692.29 400.6 L693.64 410.28 L695 419.36 L696.36 427.9 L697.72 435.97 L699.08 443.61 L700.58 340.3 L701.94 354.27 L703.3 367.18 L704.66 379.13 L706.01 390.24 L707.37 400.6 L708.73 410.28 L710.09 419.36 L711.44 427.9 L712.8 435.97 L714.16 443.61 L715.67 340.3 L717.03 354.27 L718.38 367.18 L719.74 379.13 L721.1 390.24 L722.46 400.6 L723.81 410.28 L725.17 419.36 L726.53 427.9 L727.89 435.97 L729.25 443.61 L730.75 340.3 L732.11 354.27 L733.47 367.18 L734.83 379.13 L736.18 390.24 L737.54 400.6 L738.9 410.28 L740.26 419.36 L741.61 427.9 L742.97 435.97 L744.33 443.61 L745.84 340.3 L747.2 354.27 L748.55 367.18 L749.91 379.13 L751.27 390.24 L752.63 400.6 L753.98 410.28 L755.34 419.36 L756.7 427.9 L758.06 435.97 L759.41 443.61 L760.92 340.3 L762.28 354.27 L763.64 367.18 L765 379.13 L766.35 390.24 L767.71 400.6 L769.07 410.28 L770.43 419.36 L771.78 427.9 L773.14 435.97 L774.5 443.61" stroke="#0072BD" stroke-width="1.3" fill="none" stroke-linejoin="round"/>
<line x1="458.2" y1="337.6" x2="774.7" y2="337.6" stroke="#555" stroke-width="1.0"/>
<line x1="774.7" y1="337.6" x2="774.7" y2="495.3" stroke="#555" stroke-width="1.0"/>
<line x1="458.2" y1="337.1" x2="458.2" y2="495.9" stroke="#8a8a8a" stroke-width="1.2"/>
<line x1="457.6" y1="495.3" x2="775.2" y2="495.3" stroke="#8a8a8a" stroke-width="1.2"/>
<line x1="472.8" y1="495.3" x2="472.8" y2="492.3" stroke="#3a3a3a" stroke-width="0.8"/>
<line x1="472.8" y1="337.6" x2="472.8" y2="340.6" stroke="#3a3a3a" stroke-width="0.8"/>
<text x="472.8" y="503.5" font-size="8.6" font-weight="normal" text-anchor="middle" fill="#1c1c1c">0</text>
<line x1="502.97" y1="495.3" x2="502.97" y2="492.3" stroke="#3a3a3a" stroke-width="0.8"/>
<line x1="502.97" y1="337.6" x2="502.97" y2="340.6" stroke="#3a3a3a" stroke-width="0.8"/>
<text x="502.97" y="503.5" font-size="8.6" font-weight="normal" text-anchor="middle" fill="#1c1c1c">1</text>
<line x1="533.14" y1="495.3" x2="533.14" y2="492.3" stroke="#3a3a3a" stroke-width="0.8"/>
<line x1="533.14" y1="337.6" x2="533.14" y2="340.6" stroke="#3a3a3a" stroke-width="0.8"/>
<text x="533.14" y="503.5" font-size="8.6" font-weight="normal" text-anchor="middle" fill="#1c1c1c">2</text>
<line x1="563.31" y1="495.3" x2="563.31" y2="492.3" stroke="#3a3a3a" stroke-width="0.8"/>
<line x1="563.31" y1="337.6" x2="563.31" y2="340.6" stroke="#3a3a3a" stroke-width="0.8"/>
<text x="563.31" y="503.5" font-size="8.6" font-weight="normal" text-anchor="middle" fill="#1c1c1c">3</text>
<line x1="593.48" y1="495.3" x2="593.48" y2="492.3" stroke="#3a3a3a" stroke-width="0.8"/>
<line x1="593.48" y1="337.6" x2="593.48" y2="340.6" stroke="#3a3a3a" stroke-width="0.8"/>
<text x="593.48" y="503.5" font-size="8.6" font-weight="normal" text-anchor="middle" fill="#1c1c1c">4</text>
<line x1="623.65" y1="495.3" x2="623.65" y2="492.3" stroke="#3a3a3a" stroke-width="0.8"/>
<line x1="623.65" y1="337.6" x2="623.65" y2="340.6" stroke="#3a3a3a" stroke-width="0.8"/>
<text x="623.65" y="503.5" font-size="8.6" font-weight="normal" text-anchor="middle" fill="#1c1c1c">5</text>
<line x1="653.82" y1="495.3" x2="653.82" y2="492.3" stroke="#3a3a3a" stroke-width="0.8"/>
<line x1="653.82" y1="337.6" x2="653.82" y2="340.6" stroke="#3a3a3a" stroke-width="0.8"/>
<text x="653.82" y="503.5" font-size="8.6" font-weight="normal" text-anchor="middle" fill="#1c1c1c">6</text>
<line x1="683.99" y1="495.3" x2="683.99" y2="492.3" stroke="#3a3a3a" stroke-width="0.8"/>
<line x1="683.99" y1="337.6" x2="683.99" y2="340.6" stroke="#3a3a3a" stroke-width="0.8"/>
<text x="683.99" y="503.5" font-size="8.6" font-weight="normal" text-anchor="middle" fill="#1c1c1c">7</text>
<line x1="714.16" y1="495.3" x2="714.16" y2="492.3" stroke="#3a3a3a" stroke-width="0.8"/>
<line x1="714.16" y1="337.6" x2="714.16" y2="340.6" stroke="#3a3a3a" stroke-width="0.8"/>
<text x="714.16" y="503.5" font-size="8.6" font-weight="normal" text-anchor="middle" fill="#1c1c1c">8</text>
<line x1="744.33" y1="495.3" x2="744.33" y2="492.3" stroke="#3a3a3a" stroke-width="0.8"/>
<line x1="744.33" y1="337.6" x2="744.33" y2="340.6" stroke="#3a3a3a" stroke-width="0.8"/>
<text x="744.33" y="503.5" font-size="8.6" font-weight="normal" text-anchor="middle" fill="#1c1c1c">9</text>
<line x1="774.5" y1="495.3" x2="774.5" y2="492.3" stroke="#3a3a3a" stroke-width="0.8"/>
<line x1="774.5" y1="337.6" x2="774.5" y2="340.6" stroke="#3a3a3a" stroke-width="0.8"/>
<text x="775.8" y="503.5" font-size="8.6" font-weight="normal" text-anchor="middle" fill="#1c1c1c">10</text>
<line x1="458.2" y1="491.8" x2="461.2" y2="491.8" stroke="#3a3a3a" stroke-width="0.8"/>
<line x1="774.7" y1="491.8" x2="771.7" y2="491.8" stroke="#3a3a3a" stroke-width="0.8"/>
<text x="454.3" y="494.7" font-size="8.6" font-weight="normal" text-anchor="end" fill="#1c1c1c">0</text>
<line x1="458.2" y1="472.53" x2="461.2" y2="472.53" stroke="#3a3a3a" stroke-width="0.8"/>
<line x1="774.7" y1="472.53" x2="771.7" y2="472.53" stroke="#3a3a3a" stroke-width="0.8"/>
<text x="454.3" y="475.43" font-size="8.6" font-weight="normal" text-anchor="end" fill="#1c1c1c">0.5</text>
<line x1="458.2" y1="453.25" x2="461.2" y2="453.25" stroke="#3a3a3a" stroke-width="0.8"/>
<line x1="774.7" y1="453.25" x2="771.7" y2="453.25" stroke="#3a3a3a" stroke-width="0.8"/>
<text x="454.3" y="456.15" font-size="8.6" font-weight="normal" text-anchor="end" fill="#1c1c1c">1</text>
<line x1="458.2" y1="433.98" x2="461.2" y2="433.98" stroke="#3a3a3a" stroke-width="0.8"/>
<line x1="774.7" y1="433.98" x2="771.7" y2="433.98" stroke="#3a3a3a" stroke-width="0.8"/>
<text x="454.3" y="436.88" font-size="8.6" font-weight="normal" text-anchor="end" fill="#1c1c1c">1.5</text>
<line x1="458.2" y1="414.7" x2="461.2" y2="414.7" stroke="#3a3a3a" stroke-width="0.8"/>
<line x1="774.7" y1="414.7" x2="771.7" y2="414.7" stroke="#3a3a3a" stroke-width="0.8"/>
<text x="454.3" y="417.6" font-size="8.6" font-weight="normal" text-anchor="end" fill="#1c1c1c">2</text>
<line x1="458.2" y1="395.43" x2="461.2" y2="395.43" stroke="#3a3a3a" stroke-width="0.8"/>
<line x1="774.7" y1="395.43" x2="771.7" y2="395.43" stroke="#3a3a3a" stroke-width="0.8"/>
<text x="454.3" y="398.32" font-size="8.6" font-weight="normal" text-anchor="end" fill="#1c1c1c">2.5</text>
<line x1="458.2" y1="376.15" x2="461.2" y2="376.15" stroke="#3a3a3a" stroke-width="0.8"/>
<line x1="774.7" y1="376.15" x2="771.7" y2="376.15" stroke="#3a3a3a" stroke-width="0.8"/>
<text x="454.3" y="379.05" font-size="8.6" font-weight="normal" text-anchor="end" fill="#1c1c1c">3</text>
<line x1="458.2" y1="356.88" x2="461.2" y2="356.88" stroke="#3a3a3a" stroke-width="0.8"/>
<line x1="774.7" y1="356.88" x2="771.7" y2="356.88" stroke="#3a3a3a" stroke-width="0.8"/>
<text x="454.3" y="359.77" font-size="8.6" font-weight="normal" text-anchor="end" fill="#1c1c1c">3.5</text>
<line x1="458.2" y1="337.6" x2="461.2" y2="337.6" stroke="#3a3a3a" stroke-width="0.8"/>
<line x1="774.7" y1="337.6" x2="771.7" y2="337.6" stroke="#3a3a3a" stroke-width="0.8"/>
<text x="454.3" y="340.5" font-size="8.6" font-weight="normal" text-anchor="end" fill="#1c1c1c">4</text>
<text x="622.3" y="512.5" font-size="9.3" font-weight="bold" text-anchor="middle" fill="#0a0a0a" stroke="#0a0a0a" stroke-width="0.28">Time (s)</text>
<text x="759.6" y="515.6" font-size="8.8" font-weight="normal" text-anchor="start" fill="#1c1c1c">×10</text>
<text x="773.6" y="512.6" font-size="8.6" font-weight="normal" text-anchor="start" fill="#1c1c1c">-4</text>
<text x="442" y="404.8" font-size="9.6" font-weight="bold" text-anchor="middle" fill="#0a0a0a" transform="rotate(-90 442 404.8)" stroke="#0a0a0a" stroke-width="0.28">Power laser (W)</text>
<line x1="534.2" y1="341.5" x2="532.8" y2="445" stroke="#ff3030" stroke-width="1.0" stroke-dasharray="1.7 1.5"/>
<line x1="535.2" y1="341.5" x2="533.8" y2="445" stroke="#ff3030" stroke-width="1.0" stroke-dasharray="1.7 1.5"/>
<line x1="549.3" y1="341.5" x2="547.9" y2="445" stroke="#ff3030" stroke-width="1.0" stroke-dasharray="1.7 1.5"/>
<line x1="536.42" y1="339.2" x2="546.78" y2="339.2" stroke="#ff5252" stroke-width="1.3"/>
<polygon points="549.6,339.2 544.9,341.55 544.9,336.85" fill="#ff0a0a"/>
<polygon points="533.6,339.2 538.3,336.85 538.3,341.55" fill="#ff0a0a"/>
<text x="509.4" y="333.4" font-size="9.6" font-weight="bold" text-anchor="start" fill="#0a0a0a" stroke="#0a0a0a" stroke-width="0.28">Period = 1/20 kHz</text>
<text x="524.9" y="450.2" font-size="8.5" font-weight="bold" text-anchor="start" fill="#0a0a0a" stroke="#0a0a0a" stroke-width="0.28">Duty cycle = 10%</text>
<line x1="522" y1="439.3" x2="530.28" y2="439.3" stroke="#000" stroke-width="1.0"/>
<polygon points="532.8,439.3 528.6,441.06 528.6,437.54" fill="#000"/>
<line x1="545" y1="439.3" x2="538.12" y2="439.3" stroke="#000" stroke-width="1.0"/>
<polygon points="535.6,439.3 539.8,437.54 539.8,441.06" fill="#000"/>
<text x="526" y="485" font-size="8.35" font-weight="bold" text-anchor="start" fill="#0a0a0a" stroke="#0a0a0a" stroke-width="0.28">Laser Energy</text>
<line x1="525.2" y1="481" x2="516.23" y2="476.98" stroke="#000" stroke-width="1.0"/>
<polygon points="513.6,475.8 518.8,475.92 517.16,479.6" fill="#000"/>
</svg>
</body></html>
